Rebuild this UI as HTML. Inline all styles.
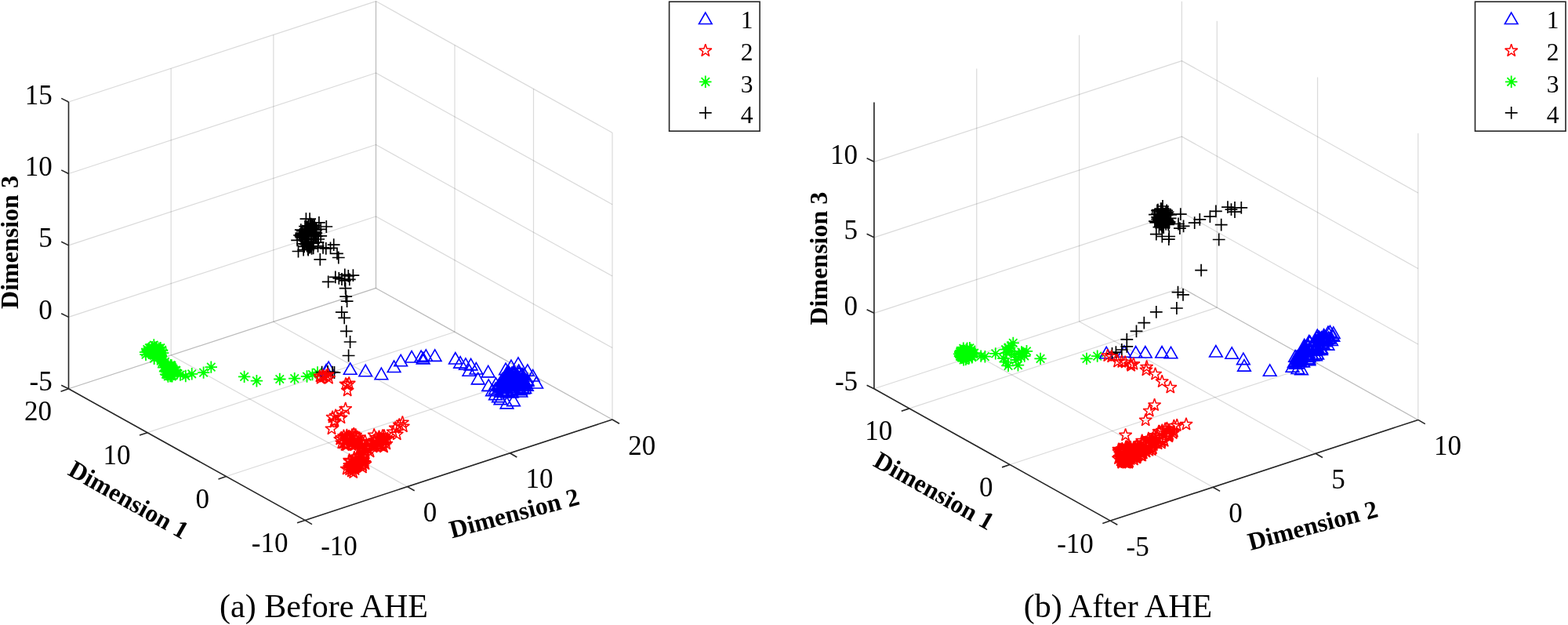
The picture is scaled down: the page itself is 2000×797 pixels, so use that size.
<!DOCTYPE html><html><head><meta charset="utf-8"><title>Before and after AHE 3D scatter plots</title><style>html,body{margin:0;padding:0;background:#fff;overflow:hidden}svg{display:block}text{font-family:'Liberation Serif','Times New Roman',serif;fill:#000}</style></head><body>
<svg width="2000" height="797" viewBox="0 0 2000 797">
<rect width="2000" height="797" fill="#fff"/>
<g stroke="#262626" stroke-opacity="0.17" stroke-width="1.2" fill="none">
<line x1="87.50" y1="495.80" x2="87.50" y2="130.00"/>
<line x1="218.17" y1="453.00" x2="218.17" y2="87.20"/>
<line x1="348.83" y1="410.20" x2="348.83" y2="44.40"/>
<line x1="479.50" y1="367.40" x2="479.50" y2="1.60"/>
<line x1="87.50" y1="495.80" x2="479.50" y2="367.40"/>
<line x1="87.50" y1="404.35" x2="479.50" y2="275.95"/>
<line x1="87.50" y1="312.90" x2="479.50" y2="184.50"/>
<line x1="87.50" y1="221.45" x2="479.50" y2="93.05"/>
<line x1="87.50" y1="130.00" x2="479.50" y2="1.60"/>
<line x1="781.00" y1="535.00" x2="781.00" y2="169.20"/>
<line x1="680.50" y1="479.13" x2="680.50" y2="113.33"/>
<line x1="580.00" y1="423.27" x2="580.00" y2="57.47"/>
<line x1="479.50" y1="367.40" x2="479.50" y2="1.60"/>
<line x1="781.00" y1="535.00" x2="479.50" y2="367.40"/>
<line x1="781.00" y1="443.55" x2="479.50" y2="275.95"/>
<line x1="781.00" y1="352.10" x2="479.50" y2="184.50"/>
<line x1="781.00" y1="260.65" x2="479.50" y2="93.05"/>
<line x1="781.00" y1="169.20" x2="479.50" y2="1.60"/>
<line x1="389.00" y1="663.40" x2="781.00" y2="535.00"/>
<line x1="288.50" y1="607.53" x2="680.50" y2="479.13"/>
<line x1="188.00" y1="551.67" x2="580.00" y2="423.27"/>
<line x1="87.50" y1="495.80" x2="479.50" y2="367.40"/>
<line x1="389.00" y1="663.40" x2="87.50" y2="495.80"/>
<line x1="519.67" y1="620.60" x2="218.17" y2="453.00"/>
<line x1="650.33" y1="577.80" x2="348.83" y2="410.20"/>
<line x1="781.00" y1="535.00" x2="479.50" y2="367.40"/>
</g>
<g stroke="#262626" stroke-opacity="0.17" stroke-width="1.2" fill="none">
<line x1="1114.90" y1="495.80" x2="1114.90" y2="130.50"/>
<line x1="1245.73" y1="452.90" x2="1245.73" y2="87.60"/>
<line x1="1376.57" y1="410.00" x2="1376.57" y2="44.70"/>
<line x1="1507.40" y1="367.10" x2="1507.40" y2="1.80"/>
<line x1="1114.90" y1="495.80" x2="1507.40" y2="367.10"/>
<line x1="1114.90" y1="399.31" x2="1507.40" y2="270.61"/>
<line x1="1114.90" y1="302.83" x2="1507.40" y2="174.13"/>
<line x1="1114.90" y1="206.34" x2="1507.40" y2="77.64"/>
<line x1="1808.80" y1="535.40" x2="1808.80" y2="170.10"/>
<line x1="1680.54" y1="463.78" x2="1680.54" y2="98.48"/>
<line x1="1552.29" y1="392.17" x2="1552.29" y2="26.87"/>
<line x1="1808.80" y1="535.40" x2="1507.40" y2="367.10"/>
<line x1="1808.80" y1="438.91" x2="1507.40" y2="270.61"/>
<line x1="1808.80" y1="342.43" x2="1507.40" y2="174.13"/>
<line x1="1808.80" y1="245.94" x2="1507.40" y2="77.64"/>
<line x1="1416.30" y1="664.10" x2="1808.80" y2="535.40"/>
<line x1="1288.04" y1="592.48" x2="1680.54" y2="463.78"/>
<line x1="1159.79" y1="520.87" x2="1552.29" y2="392.17"/>
<line x1="1416.30" y1="664.10" x2="1114.90" y2="495.80"/>
<line x1="1547.13" y1="621.20" x2="1245.73" y2="452.90"/>
<line x1="1677.97" y1="578.30" x2="1376.57" y2="410.00"/>
<line x1="1808.80" y1="535.40" x2="1507.40" y2="367.10"/>
</g>
<path d="M229.1 479.5H244.5M236.8 471.8V487.2M231.6 474.3L242.0 484.7M231.6 484.7L242.0 474.3M237.0 476.8H252.4M244.7 469.1V484.5M239.5 471.6L249.9 482.0M239.5 482.0L249.9 471.6M251.9 475.1H267.3M259.6 467.4V482.8M254.4 469.9L264.8 480.3M254.4 480.3L264.8 469.9M261.6 468.1H277.0M269.3 460.4V475.8M264.1 462.9L274.5 473.3M264.1 473.3L274.5 462.9M303.9 480.4H319.3M311.6 472.7V488.1M306.4 475.2L316.8 485.6M306.4 485.6L316.8 475.2M319.7 485.7H335.1M327.4 478.0V493.4M322.2 480.5L332.6 490.9M322.2 490.9L332.6 480.5M349.1 483.5H364.5M356.8 475.8V491.2M351.6 478.3L362.0 488.7M351.6 488.7L362.0 478.3M368.0 482.6H383.4M375.7 474.9V490.3M370.5 477.4L380.9 487.8M370.5 487.8L380.9 477.4M383.8 480.0H399.2M391.5 472.3V487.7M386.3 474.8L396.7 485.2M386.3 485.2L396.7 474.8M390.8 477.5H406.2M398.5 469.8V485.2M393.3 472.3L403.7 482.7M393.3 482.7L403.7 472.3M397.3 475.0H412.7M405.0 467.3V482.7M399.8 469.8L410.2 480.2M399.8 480.2L410.2 469.8M222.3 478.0H237.7M230.0 470.3V485.7M224.8 472.8L235.2 483.2M224.8 483.2L235.2 472.8M218.3 476.0H233.7M226.0 468.3V483.7M220.8 470.8L231.2 481.2M220.8 481.2L231.2 470.8M194.9 444.1H210.3M202.6 436.4V451.8M197.4 438.9L207.8 449.3M197.4 449.3L207.8 438.9M188.7 447.6H204.1M196.4 439.9V455.3M191.2 442.4L201.6 452.8M191.2 452.8L201.6 442.4M192.3 453.7H207.7M200.0 446.0V461.4M194.8 448.5L205.2 458.9M194.8 458.9L205.2 448.5M196.5 447.3H211.9M204.2 439.6V455.0M199.0 442.1L209.4 452.5M199.0 452.5L209.4 442.1M187.5 452.5H202.9M195.2 444.8V460.2M190.0 447.3L200.4 457.7M190.0 457.7L200.4 447.3M177.9 449.2H193.3M185.6 441.5V456.9M180.4 444.0L190.8 454.4M180.4 454.4L190.8 444.0M198.9 446.4H214.3M206.6 438.7V454.1M201.4 441.2L211.8 451.6M201.4 451.6L211.8 441.2M182.3 447.1H197.7M190.0 439.4V454.8M184.8 441.9L195.2 452.3M184.8 452.3L195.2 441.9M187.4 448.4H202.8M195.1 440.7V456.1M189.9 443.2L200.3 453.6M189.9 453.6L200.3 443.2M182.7 443.7H198.1M190.4 436.0V451.4M185.2 438.5L195.6 448.9M185.2 448.9L195.6 438.5M182.3 447.8H197.7M190.0 440.1V455.5M184.8 442.6L195.2 453.0M184.8 453.0L195.2 442.6M196.6 449.5H212.0M204.3 441.8V457.2M199.1 444.3L209.5 454.7M199.1 454.7L209.5 444.3M192.1 442.8H207.5M199.8 435.1V450.5M194.6 437.6L205.0 448.0M194.6 448.0L205.0 437.6M180.1 445.5H195.5M187.8 437.8V453.2M182.6 440.3L193.0 450.7M182.6 450.7L193.0 440.3M193.9 452.3H209.3M201.6 444.6V460.0M196.4 447.1L206.8 457.5M196.4 457.5L206.8 447.1M198.8 447.1H214.2M206.5 439.4V454.8M201.3 441.9L211.7 452.3M201.3 452.3L211.7 441.9M196.4 451.6H211.8M204.1 443.9V459.3M198.9 446.4L209.3 456.8M198.9 456.8L209.3 446.4M184.3 450.1H199.7M192.0 442.4V457.8M186.8 444.9L197.2 455.3M186.8 455.3L197.2 444.9M188.9 450.1H204.3M196.6 442.4V457.8M191.4 444.9L201.8 455.3M191.4 455.3L201.8 444.9M195.6 447.0H211.0M203.3 439.3V454.7M198.1 441.8L208.5 452.2M198.1 452.2L208.5 441.8M181.3 449.4H196.7M189.0 441.7V457.1M183.8 444.2L194.2 454.6M183.8 454.6L194.2 444.2M193.5 451.6H208.9M201.2 443.9V459.3M196.0 446.4L206.4 456.8M196.0 456.8L206.4 446.4M185.9 447.4H201.3M193.6 439.7V455.1M188.4 442.2L198.8 452.6M188.4 452.6L198.8 442.2M189.0 453.5H204.4M196.7 445.8V461.2M191.5 448.3L201.9 458.7M191.5 458.7L201.9 448.3M189.3 446.6H204.7M197.0 438.9V454.3M191.8 441.4L202.2 451.8M191.8 451.8L202.2 441.4M188.6 440.0H204.0M196.3 432.3V447.7M191.1 434.8L201.5 445.2M191.1 445.2L201.5 434.8M178.3 452.2H193.7M186.0 444.5V459.9M180.8 447.0L191.2 457.4M180.8 457.4L191.2 447.0M199.9 450.2H215.3M207.6 442.5V457.9M202.4 445.0L212.8 455.4M202.4 455.4L212.8 445.0M186.4 442.6H201.8M194.1 434.9V450.3M188.9 437.4L199.3 447.8M188.9 447.8L199.3 437.4M188.9 457.2H204.3M196.6 449.5V464.9M191.4 452.0L201.8 462.4M191.4 462.4L201.8 452.0M195.0 449.2H210.4M202.7 441.5V456.9M197.5 444.0L207.9 454.4M197.5 454.4L207.9 444.0M197.1 443.7H212.5M204.8 436.0V451.4M199.6 438.5L210.0 448.9M199.6 448.9L210.0 438.5M189.1 456.6H204.5M196.8 448.9V464.3M191.6 451.4L202.0 461.8M191.6 461.8L202.0 451.4M190.6 447.8H206.0M198.3 440.1V455.5M193.1 442.6L203.5 453.0M193.1 453.0L203.5 442.6M183.5 449.4H198.9M191.2 441.7V457.1M186.0 444.2L196.4 454.6M186.0 454.6L196.4 444.2M195.3 454.3H210.7M203.0 446.6V462.0M197.8 449.1L208.2 459.5M197.8 459.5L208.2 449.1M197.7 452.8H213.1M205.4 445.1V460.5M200.2 447.6L210.6 458.0M200.2 458.0L210.6 447.6M195.9 448.8H211.3M203.6 441.1V456.5M198.4 443.6L208.8 454.0M198.4 454.0L208.8 443.6M190.2 447.2H205.6M197.9 439.5V454.9M192.7 442.0L203.1 452.4M192.7 452.4L203.1 442.0M190.4 443.1H205.8M198.1 435.4V450.8M192.9 437.9L203.3 448.3M192.9 448.3L203.3 437.9M188.9 448.2H204.3M196.6 440.5V455.9M191.4 443.0L201.8 453.4M191.4 453.4L201.8 443.0M185.5 445.7H200.9M193.2 438.0V453.4M188.0 440.5L198.4 450.9M188.0 450.9L198.4 440.5M201.7 462.9H217.1M209.4 455.2V470.6M204.2 457.7L214.6 468.1M204.2 468.1L214.6 457.7M200.0 459.5H215.4M207.7 451.8V467.2M202.5 454.3L212.9 464.7M202.5 464.7L212.9 454.3M199.4 461.9H214.8M207.1 454.2V469.6M201.9 456.7L212.3 467.1M201.9 467.1L212.3 456.7M199.1 458.3H214.5M206.8 450.6V466.0M201.6 453.1L212.0 463.5M201.6 463.5L212.0 453.1M197.6 460.1H213.0M205.3 452.4V467.8M200.1 454.9L210.5 465.3M200.1 465.3L210.5 454.9M202.8 461.4H218.2M210.5 453.7V469.1M205.3 456.2L215.7 466.6M205.3 466.6L215.7 456.2M197.7 459.1H213.1M205.4 451.4V466.8M200.2 453.9L210.6 464.3M200.2 464.3L210.6 453.9M197.9 459.5H213.3M205.6 451.8V467.2M200.4 454.3L210.8 464.7M200.4 464.7L210.8 454.3M202.8 473.7H218.2M210.5 466.0V481.4M205.3 468.5L215.7 478.9M205.3 478.9L215.7 468.5M205.3 474.7H220.7M213.0 467.0V482.4M207.8 469.5L218.2 479.9M207.8 479.9L218.2 469.5M210.2 466.0H225.6M217.9 458.3V473.7M212.7 460.8L223.1 471.2M212.7 471.2L223.1 460.8M203.2 468.7H218.6M210.9 461.0V476.4M205.7 463.5L216.1 473.9M205.7 473.9L216.1 463.5M217.2 472.5H232.6M224.9 464.8V480.2M219.7 467.3L230.1 477.7M219.7 477.7L230.1 467.3M214.2 472.6H229.6M221.9 464.9V480.3M216.7 467.4L227.1 477.8M216.7 477.8L227.1 467.4M210.4 467.4H225.8M218.1 459.7V475.1M212.9 462.2L223.3 472.6M212.9 472.6L223.3 462.2M210.4 478.9H225.8M218.1 471.2V486.6M212.9 473.7L223.3 484.1M212.9 484.1L223.3 473.7M208.2 476.9H223.6M215.9 469.2V484.6M210.7 471.7L221.1 482.1M210.7 482.1L221.1 471.7M211.1 466.0H226.5M218.8 458.3V473.7M213.6 460.8L224.0 471.2M213.6 471.2L224.0 460.8M212.7 474.5H228.1M220.4 466.8V482.2M215.2 469.3L225.6 479.7M215.2 479.7L225.6 469.3M214.7 472.6H230.1M222.4 464.9V480.3M217.2 467.4L227.6 477.8M217.2 477.8L227.6 467.4M212.0 479.1H227.4M219.7 471.4V486.8M214.5 473.9L224.9 484.3M214.5 484.3L224.9 473.9M211.9 479.7H227.3M219.6 472.0V487.4M214.4 474.5L224.8 484.9M214.4 484.9L224.8 474.5M205.8 477.8H221.2M213.5 470.1V485.5M208.3 472.6L218.7 483.0M208.3 483.0L218.7 472.6M206.7 480.0H222.1M214.4 472.3V487.7M209.2 474.8L219.6 485.2M209.2 485.2L219.6 474.8M200.9 468.5H216.3M208.6 460.8V476.2M203.4 463.3L213.8 473.7M203.4 473.7L213.8 463.3M216.6 472.0H232.0M224.3 464.3V479.7M219.1 466.8L229.5 477.2M219.1 477.2L229.5 466.8M210.2 469.8H225.6M217.9 462.1V477.5M212.7 464.6L223.1 475.0M212.7 475.0L223.1 464.6M207.9 471.2H223.3M215.6 463.5V478.9M210.4 466.0L220.8 476.4M210.4 476.4L220.8 466.0M205.0 474.4H220.4M212.7 466.7V482.1M207.5 469.2L217.9 479.6M207.5 479.6L217.9 469.2M209.4 479.5H224.8M217.1 471.8V487.2M211.9 474.3L222.3 484.7M211.9 484.7L222.3 474.3M211.3 479.9H226.7M219.0 472.2V487.6M213.8 474.7L224.2 485.1M213.8 485.1L224.2 474.7M211.1 467.6H226.5M218.8 459.9V475.3M213.6 462.4L224.0 472.8M213.6 472.8L224.0 462.4M215.5 474.1H230.9M223.2 466.4V481.8M218.0 468.9L228.4 479.3M218.0 479.3L228.4 468.9M211.9 468.4H227.3M219.6 460.7V476.1M214.4 463.2L224.8 473.6M214.4 473.6L224.8 463.2M214.1 474.2H229.5M221.8 466.5V481.9M216.6 469.0L227.0 479.4M216.6 479.4L227.0 469.0M203.7 466.0H219.1M211.4 458.3V473.7M206.2 460.8L216.6 471.2M206.2 471.2L216.6 460.8M206.1 467.4H221.5M213.8 459.7V475.1M208.6 462.2L219.0 472.6M208.6 472.6L219.0 462.2M203.9 477.3H219.3M211.6 469.6V485.0M206.4 472.1L216.8 482.5M206.4 482.5L216.8 472.1M210.0 465.7H225.4M217.7 458.0V473.4M212.5 460.5L222.9 470.9M212.5 470.9L222.9 460.5M212.0 470.3H227.4M219.7 462.6V478.0M214.5 465.1L224.9 475.5M214.5 475.5L224.9 465.1" fill="none" stroke="#00ff00" stroke-width="1.8" stroke-miterlimit="4"/>
<path d="M419.1 461.2L410.8 475.8L427.4 475.8ZM416.0 464.6L407.7 479.1L424.3 479.1ZM446.7 462.8L438.4 477.3L455.0 477.3ZM466.2 465.2L457.9 479.8L474.5 479.8ZM486.4 469.2L478.1 483.8L494.7 483.8ZM502.6 460.0L494.3 474.5L510.9 474.5ZM511.2 452.3L502.9 466.8L519.5 466.8ZM525.1 447.5L516.8 462.0L533.4 462.0ZM537.1 447.2L528.8 461.8L545.4 461.8ZM543.3 445.9L535.0 460.4L551.6 460.4ZM539.7 449.4L531.4 463.9L548.0 463.9ZM554.7 445.9L546.4 460.4L563.0 460.4ZM580.9 449.5L572.6 464.0L589.2 464.0ZM587.1 454.6L578.8 469.1L595.4 469.1ZM593.9 456.8L585.6 471.3L602.2 471.3ZM600.6 457.4L592.3 471.9L608.9 471.9ZM607.4 462.5L599.1 477.0L615.7 477.0ZM598.4 464.8L590.1 479.2L606.7 479.2ZM609.7 475.4L601.4 489.9L618.0 489.9ZM622.7 466.4L614.4 480.9L631.0 480.9ZM623.2 483.9L614.9 498.4L631.5 498.4ZM661.0 455.8L652.7 470.2L669.3 470.2ZM646.5 506.4L638.2 520.9L654.8 520.9ZM638.5 501.1L630.2 515.6L646.8 515.6ZM655.0 503.1L646.7 517.6L663.3 517.6ZM632.0 495.1L623.7 509.6L640.3 509.6ZM628.0 490.1L619.7 504.6L636.3 504.6ZM684.2 480.5L675.9 495.0L692.5 495.0ZM679.7 471.5L671.4 486.0L688.0 486.0ZM672.9 464.8L664.6 479.2L681.2 479.2ZM632.0 488.1L623.7 502.6L640.3 502.6ZM636.0 498.1L627.7 512.6L644.3 512.6ZM645.0 463.1L636.7 477.6L653.3 477.6ZM652.0 459.1L643.7 473.6L660.3 473.6ZM647.0 466.7L638.7 481.2L655.3 481.2ZM652.5 468.3L644.2 482.8L660.8 482.8ZM641.3 475.7L633.0 490.2L649.6 490.2ZM665.0 470.3L656.7 484.8L673.3 484.8ZM657.2 472.0L648.9 486.5L665.5 486.5ZM667.2 487.8L658.9 502.3L675.5 502.3ZM666.2 469.5L657.9 484.0L674.5 484.0ZM649.5 482.5L641.2 497.0L657.8 497.0ZM663.9 489.3L655.6 503.8L672.2 503.8ZM659.6 483.8L651.3 498.3L667.9 498.3ZM656.2 469.0L647.9 483.5L664.5 483.5ZM655.1 466.3L646.8 480.8L663.4 480.8ZM657.6 472.7L649.3 487.2L665.9 487.2ZM669.9 480.8L661.6 495.3L678.2 495.3ZM656.3 476.1L648.0 490.6L664.6 490.6ZM659.4 476.6L651.1 491.1L667.7 491.1ZM644.5 472.8L636.2 487.3L652.8 487.3ZM640.6 482.4L632.3 496.9L648.9 496.9ZM648.5 479.7L640.2 494.2L656.8 494.2ZM655.0 473.9L646.7 488.4L663.3 488.4ZM653.0 469.7L644.7 484.2L661.3 484.2ZM660.5 471.9L652.2 486.4L668.8 486.4ZM651.1 486.1L642.8 500.6L659.4 500.6ZM649.9 480.4L641.6 494.9L658.2 494.9ZM665.0 482.1L656.7 496.6L673.3 496.6ZM647.1 473.6L638.8 488.1L655.4 488.1ZM645.0 477.4L636.7 491.9L653.3 491.9ZM640.5 484.6L632.2 499.1L648.8 499.1ZM653.0 491.9L644.7 506.4L661.3 506.4ZM660.1 488.2L651.8 502.7L668.4 502.7ZM649.0 469.4L640.7 483.9L657.3 483.9ZM654.1 467.7L645.8 482.2L662.4 482.2ZM652.0 492.5L643.7 507.0L660.3 507.0ZM665.6 474.5L657.3 489.0L673.9 489.0ZM648.9 466.6L640.6 481.1L657.2 481.1ZM672.4 476.4L664.1 490.9L680.7 490.9ZM662.0 468.1L653.7 482.6L670.3 482.6ZM640.4 478.4L632.1 492.9L648.7 492.9ZM643.2 479.5L634.9 494.0L651.5 494.0ZM665.3 475.9L657.0 490.4L673.6 490.4ZM672.6 478.0L664.3 492.5L680.9 492.5ZM647.2 476.0L638.9 490.5L655.5 490.5ZM640.3 476.3L632.0 490.8L648.6 490.8ZM647.5 490.3L639.2 504.8L655.8 504.8ZM667.3 478.6L659.0 493.1L675.6 493.1ZM647.2 469.9L638.9 484.4L655.5 484.4ZM646.9 489.7L638.6 504.2L655.2 504.2ZM670.6 480.6L662.3 495.1L678.9 495.1ZM669.6 483.3L661.3 497.8L677.9 497.8ZM665.9 486.0L657.6 500.5L674.2 500.5ZM655.8 466.4L647.5 480.9L664.1 480.9ZM646.2 489.9L637.9 504.4L654.5 504.4ZM650.4 483.4L642.1 497.9L658.7 497.9ZM666.2 482.9L657.9 497.4L674.5 497.4ZM666.7 479.5L658.4 494.0L675.0 494.0ZM661.3 484.2L653.0 498.7L669.6 498.7ZM648.1 491.3L639.8 505.8L656.4 505.8ZM661.7 465.0L653.4 479.5L670.0 479.5ZM671.9 483.7L663.6 498.2L680.2 498.2ZM660.6 480.7L652.3 495.2L668.9 495.2ZM664.4 491.5L656.1 506.0L672.7 506.0ZM666.5 487.1L658.2 501.6L674.8 501.6ZM668.8 480.2L660.5 494.7L677.1 494.7ZM668.9 469.7L660.6 484.2L677.2 484.2ZM661.8 473.6L653.5 488.1L670.1 488.1ZM669.3 486.9L661.0 501.4L677.6 501.4ZM655.0 479.4L646.7 493.9L663.3 493.9ZM659.2 478.3L650.9 492.8L667.5 492.8ZM668.4 481.9L660.1 496.4L676.7 496.4ZM643.7 474.5L635.4 489.0L652.0 489.0ZM636.1 483.3L627.8 497.8L644.4 497.8ZM639.2 491.6L630.9 506.1L647.5 506.1ZM638.8 486.1L630.5 500.6L647.1 500.6ZM641.7 489.5L633.4 504.0L650.0 504.0ZM642.5 491.1L634.2 505.6L650.8 505.6ZM643.4 487.1L635.1 501.6L651.7 501.6ZM632.5 481.8L624.2 496.3L640.8 496.3ZM641.6 482.2L633.3 496.7L649.9 496.7ZM640.5 490.3L632.2 504.8L648.8 504.8ZM643.5 483.0L635.2 497.5L651.8 497.5Z" fill="none" stroke="#0000ff" stroke-width="1.6" stroke-miterlimit="4"/>
<path d="M382.5 279.1H398.3M390.4 271.2V287.0M387.2 279.1H403.0M395.1 271.2V287.0M408.4 289.0H424.2M416.3 281.1V296.9M372.6 320.5H388.4M380.5 312.6V328.4M379.2 318.6H395.0M387.1 310.7V326.5M385.3 318.6H401.1M393.2 310.7V326.5M400.4 330.9H416.2M408.3 323.0V338.8M417.8 312.1H433.6M425.7 304.2V320.0M423.9 328.5H439.7M431.8 320.6V336.4M422.1 323.4H437.9M430.0 315.5V331.3M407.9 316.8H423.7M415.8 308.9V324.7M413.6 316.3H429.4M421.5 308.4V324.2M404.1 315.8H419.9M412.0 307.9V323.7M397.6 313.9H413.4M405.5 306.0V321.8M397.6 309.2H413.4M405.5 301.3V317.1M401.3 300.8H417.1M409.2 292.9V308.7M401.3 292.3H417.1M409.2 284.4V300.2M399.0 283.8H414.8M406.9 275.9V291.7M375.9 293.2H391.7M383.8 285.3V301.1M371.2 306.4H387.0M379.1 298.5V314.3M374.1 300.0H389.9M382.0 292.1V307.9M410.8 359.4H426.6M418.7 351.5V367.3M419.9 353.4H435.7M427.8 345.5V361.3M424.4 354.9H440.2M432.3 347.0V362.8M431.9 350.4H447.7M439.8 342.5V358.3M436.4 351.9H452.2M444.3 344.0V359.8M442.5 351.1H458.3M450.4 343.2V359.0M437.9 356.4H453.7M445.8 348.5V364.3M431.9 357.9H447.7M439.8 350.0V365.8M428.1 356.0H443.9M436.0 348.1V363.9M432.7 367.7H448.5M440.6 359.8V375.6M433.3 378.2H449.1M441.2 370.3V386.1M434.7 384.2H450.5M442.6 376.3V392.1M427.9 398.2H443.7M435.8 390.3V406.1M431.3 405.3H447.1M439.2 397.4V413.2M433.9 422.3H449.7M441.8 414.4V430.2M438.7 436.0H454.5M446.6 428.1V443.9M436.7 453.5H452.5M444.6 445.6V461.4M402.7 474.6H418.5M410.6 466.7V482.5M410.1 474.0H425.9M418.0 466.1V481.9M416.2 474.6H432.0M424.1 466.7V482.5M418.6 475.0H434.4M426.5 467.1V482.9M386.2 297.3H402.0M394.1 289.4V305.2M375.7 301.6H391.5M383.6 293.7V309.5M388.3 305.3H404.1M396.2 297.4V313.2M376.5 297.5H392.3M384.4 289.6V305.4M391.8 299.9H407.6M399.7 292.0V307.8M392.3 290.2H408.1M400.2 282.3V298.1M381.1 288.7H396.9M389.0 280.8V296.6M387.2 315.5H403.0M395.1 307.6V323.4M389.2 310.5H405.0M397.1 302.6V318.4M384.4 309.6H400.2M392.3 301.7V317.5M377.9 294.6H393.7M385.8 286.7V302.5M391.1 308.9H406.9M399.0 301.0V316.8M385.3 287.9H401.1M393.2 280.0V295.8M381.7 291.9H397.5M389.6 284.0V299.8M382.1 311.7H397.9M390.0 303.8V319.6M380.2 314.3H396.0M388.1 306.4V322.2M384.3 301.2H400.1M392.2 293.3V309.1M376.1 299.0H391.9M384.0 291.1V306.9M389.3 289.0H405.1M397.2 281.1V296.9M388.9 314.5H404.7M396.8 306.6V322.4M377.5 302.8H393.3M385.4 294.9V310.7M387.0 315.4H402.8M394.9 307.5V323.3M385.3 298.1H401.1M393.2 290.2V306.0M390.3 288.1H406.1M398.2 280.2V296.0M388.9 290.7H404.7M396.8 282.8V298.6M389.6 316.6H405.4M397.5 308.7V324.5M376.8 303.3H392.6M384.7 295.4V311.2M389.5 289.9H405.3M397.4 282.0V297.8M391.8 316.4H407.6M399.7 308.5V324.3M381.0 305.2H396.8M388.9 297.3V313.1M376.6 297.1H392.4M384.5 289.2V305.0M391.1 304.5H406.9M399.0 296.6V312.4M393.4 287.9H409.2M401.3 280.0V295.8M383.6 313.5H399.4M391.5 305.6V321.4M389.0 299.9H404.8M396.9 292.0V307.8M384.8 317.5H400.6M392.7 309.6V325.4M388.8 285.6H404.6M396.7 277.7V293.5M394.0 295.8H409.8M401.9 287.9V303.7M385.6 292.0H401.4M393.5 284.1V299.9M385.8 295.7H401.6M393.7 287.8V303.6M377.6 305.8H393.4M385.5 297.9V313.7M378.0 310.9H393.8M385.9 303.0V318.8M394.2 301.4H410.0M402.1 293.5V309.3M391.9 293.2H407.7M399.8 285.3V301.1M392.6 299.0H408.4M400.5 291.1V306.9M384.8 297.3H400.6M392.7 289.4V305.2M395.4 297.2H411.2M403.3 289.3V305.1M391.0 290.6H406.8M398.9 282.7V298.5M395.0 293.5H410.8M402.9 285.6V301.4M398.3 305.0H414.1M406.2 297.1V312.9M380.4 297.8H396.2M388.3 289.9V305.7M389.7 316.9H405.5M397.6 309.0V324.8M383.8 289.6H399.6M391.7 281.7V297.5M388.5 289.5H404.3M396.4 281.6V297.4M377.6 303.3H393.4M385.5 295.4V311.2M391.6 287.2H407.4M399.5 279.3V295.1M386.0 308.2H401.8M393.9 300.3V316.1M393.2 297.6H409.0M401.1 289.7V305.5M392.1 310.5H407.9M400.0 302.6V318.4M395.8 301.3H411.6M403.7 293.4V309.2M387.8 290.7H403.6M395.7 282.8V298.6M390.1 287.8H405.9M398.0 279.9V295.7" fill="none" stroke="#000000" stroke-width="1.7" stroke-miterlimit="4"/>
<path d="M413.1 472.0L415.0 477.8L421.1 477.8L416.2 481.4L418.0 487.2L413.1 483.6L408.2 487.2L410.0 481.4L405.1 477.8L411.2 477.8ZM411.6 471.0L413.5 476.8L419.6 476.8L414.7 480.4L416.5 486.2L411.6 482.6L406.7 486.2L408.5 480.4L403.6 476.8L409.7 476.8ZM416.1 471.0L418.0 476.8L424.1 476.8L419.2 480.4L421.0 486.2L416.1 482.6L411.2 486.2L413.0 480.4L408.1 476.8L414.2 476.8ZM419.5 473.9L421.4 479.7L427.5 479.7L422.6 483.3L424.4 489.1L419.5 485.5L414.6 489.1L416.4 483.3L411.5 479.7L417.6 479.7ZM409.1 473.9L411.0 479.7L417.1 479.7L412.2 483.3L414.0 489.1L409.1 485.5L404.2 489.1L406.0 483.3L401.1 479.7L407.2 479.7ZM418.0 469.4L419.9 475.2L426.0 475.2L421.1 478.8L422.9 484.6L418.0 481.0L413.1 484.6L414.9 478.8L410.0 475.2L416.1 475.2ZM408.0 471.4L409.9 477.2L416.0 477.2L411.1 480.8L412.9 486.6L408.0 483.0L403.1 486.6L404.9 480.8L400.0 477.2L406.1 477.2ZM443.2 482.6L445.1 488.4L451.2 488.4L446.3 492.0L448.1 497.8L443.2 494.2L438.3 497.8L440.1 492.0L435.2 488.4L441.3 488.4ZM443.2 489.6L445.1 495.4L451.2 495.4L446.3 499.0L448.1 504.8L443.2 501.2L438.3 504.8L440.1 499.0L435.2 495.4L441.3 495.4ZM445.2 480.5L447.1 486.3L453.2 486.3L448.3 489.9L450.1 495.7L445.2 492.1L440.3 495.7L442.1 489.9L437.2 486.3L443.3 486.3ZM441.0 481.4L442.9 487.2L449.0 487.2L444.1 490.8L445.9 496.6L441.0 493.0L436.1 496.6L437.9 490.8L433.0 487.2L439.1 487.2ZM440.7 512.9L442.6 518.7L448.7 518.7L443.8 522.3L445.6 528.1L440.7 524.5L435.8 528.1L437.6 522.3L432.7 518.7L438.8 518.7ZM435.2 517.7L437.1 523.5L443.2 523.5L438.3 527.1L440.1 532.9L435.2 529.3L430.3 532.9L432.1 527.1L427.2 523.5L433.3 523.5ZM428.1 521.7L430.0 527.5L436.1 527.5L431.2 531.1L433.0 536.9L428.1 533.3L423.2 536.9L425.0 531.1L420.1 527.5L426.2 527.5ZM424.1 523.7L426.0 529.5L432.1 529.5L427.2 533.1L429.0 538.9L424.1 535.3L419.2 538.9L421.0 533.1L416.1 529.5L422.2 529.5ZM427.0 528.4L428.9 534.2L435.0 534.2L430.1 537.8L431.9 543.6L427.0 540.0L422.1 543.6L423.9 537.8L419.0 534.2L425.1 534.2ZM423.0 538.4L424.9 544.2L431.0 544.2L426.1 547.8L427.9 553.6L423.0 550.0L418.1 553.6L419.9 547.8L415.0 544.2L421.1 544.2ZM435.0 524.4L436.9 530.2L443.0 530.2L438.1 533.8L439.9 539.6L435.0 536.0L430.1 539.6L431.9 533.8L427.0 530.2L433.1 530.2ZM426.2 529.7L428.1 535.5L434.2 535.5L429.3 539.1L431.1 544.9L426.2 541.3L421.3 544.9L423.1 539.1L418.2 535.5L424.3 535.5ZM477.2 546.5L479.1 552.3L485.2 552.3L480.3 555.9L482.1 561.7L477.2 558.1L472.3 561.7L474.1 555.9L469.2 552.3L475.3 552.3ZM509.3 533.4L511.2 539.2L517.3 539.2L512.4 542.8L514.2 548.6L509.3 545.0L504.4 548.6L506.2 542.8L501.3 539.2L507.4 539.2ZM513.4 530.4L515.3 536.2L521.4 536.2L516.5 539.8L518.3 545.6L513.4 542.0L508.5 545.6L510.3 539.8L505.4 536.2L511.5 536.2ZM514.4 535.4L516.3 541.2L522.4 541.2L517.5 544.8L519.3 550.6L514.4 547.0L509.5 550.6L511.3 544.8L506.4 541.2L512.5 541.2ZM504.3 537.4L506.2 543.2L512.3 543.2L507.4 546.8L509.2 552.6L504.3 549.0L499.4 552.6L501.2 546.8L496.3 543.2L502.4 543.2ZM501.3 542.4L503.2 548.2L509.3 548.2L504.4 551.8L506.2 557.6L501.3 554.0L496.4 557.6L498.2 551.8L493.3 548.2L499.4 548.2ZM506.3 545.4L508.2 551.2L514.3 551.2L509.4 554.8L511.2 560.6L506.3 557.0L501.4 560.6L503.2 554.8L498.3 551.2L504.4 551.2ZM449.2 556.3L451.1 562.1L457.2 562.1L452.2 565.7L454.1 571.5L449.2 567.9L444.3 571.5L446.1 565.7L441.2 562.1L447.3 562.1ZM452.2 559.2L454.1 565.0L460.2 565.0L455.3 568.5L457.2 574.4L452.2 570.8L447.3 574.4L449.2 568.5L444.2 565.0L450.4 565.0ZM433.8 551.8L435.6 557.7L441.7 557.7L436.8 561.2L438.7 567.0L433.8 563.5L428.8 567.0L430.7 561.2L425.8 557.7L431.9 557.7ZM457.5 554.8L459.4 560.6L465.5 560.6L460.6 564.2L462.5 570.0L457.5 566.4L452.6 570.0L454.5 564.2L449.5 560.6L455.6 560.6ZM445.2 548.3L447.1 554.1L453.2 554.1L448.2 557.7L450.1 563.5L445.2 560.0L440.3 563.5L442.1 557.7L437.2 554.1L443.3 554.1ZM447.1 553.6L449.0 559.4L455.1 559.4L450.2 563.0L452.1 568.8L447.1 565.2L442.2 568.8L444.1 563.0L439.1 559.4L445.3 559.4ZM440.3 559.1L442.2 564.9L448.3 564.9L443.3 568.5L445.2 574.3L440.3 570.7L435.3 574.3L437.2 568.5L432.3 564.9L438.4 564.9ZM452.9 547.0L454.8 552.8L460.9 552.8L456.0 556.3L457.8 562.1L452.9 558.6L448.0 562.1L449.9 556.3L444.9 552.8L451.0 552.8ZM453.7 546.6L455.6 552.4L461.7 552.4L456.8 556.0L458.7 561.8L453.7 558.2L448.8 561.8L450.7 556.0L445.7 552.4L451.8 552.4ZM449.1 546.4L450.9 552.2L457.0 552.2L452.1 555.8L454.0 561.6L449.1 558.0L444.1 561.6L446.0 555.8L441.1 552.2L447.2 552.2ZM438.4 547.8L440.3 553.7L446.4 553.7L441.5 557.2L443.4 563.0L438.4 559.5L433.5 563.0L435.4 557.2L430.5 553.7L436.6 553.7ZM447.0 555.2L448.9 561.0L455.0 561.0L450.1 564.6L452.0 570.4L447.0 566.9L442.1 570.4L444.0 564.6L439.0 561.0L445.1 561.0ZM456.2 549.2L458.1 555.0L464.2 555.0L459.3 558.6L461.2 564.4L456.2 560.8L451.3 564.4L453.2 558.6L448.2 555.0L454.4 555.0ZM442.4 547.1L444.3 552.9L450.4 552.9L445.4 556.4L447.3 562.3L442.4 558.7L437.5 562.3L439.3 556.4L434.4 552.9L440.5 552.9ZM440.8 554.0L442.7 559.9L448.8 559.9L443.9 563.4L445.8 569.2L440.8 565.7L435.9 569.2L437.8 563.4L432.8 559.9L438.9 559.9ZM441.8 549.4L443.7 555.2L449.8 555.2L444.8 558.8L446.7 564.6L441.8 561.0L436.8 564.6L438.7 558.8L433.8 555.2L439.9 555.2ZM454.3 552.1L456.2 557.9L462.3 557.9L457.3 561.5L459.2 567.3L454.3 563.7L449.3 567.3L451.2 561.5L446.3 557.9L452.4 557.9ZM441.2 552.1L443.1 557.9L449.2 557.9L444.3 561.5L446.1 567.3L441.2 563.7L436.3 567.3L438.2 561.5L433.2 557.9L439.3 557.9ZM451.3 545.3L453.2 551.1L459.3 551.1L454.4 554.7L456.3 560.5L451.3 556.9L446.4 560.5L448.3 554.7L443.3 551.1L449.4 551.1ZM452.5 557.9L454.4 563.7L460.5 563.7L455.5 567.3L457.4 573.1L452.5 569.5L447.6 573.1L449.4 567.3L444.5 563.7L450.6 563.7ZM442.5 553.7L444.4 559.5L450.5 559.5L445.6 563.0L447.5 568.9L442.5 565.3L437.6 568.9L439.5 563.0L434.5 559.5L440.6 559.5ZM438.1 556.5L440.0 562.3L446.1 562.3L441.2 565.9L443.0 571.7L438.1 568.1L433.2 571.7L435.1 565.9L430.1 562.3L436.2 562.3ZM442.0 550.1L443.8 555.9L449.9 555.9L445.0 559.5L446.9 565.3L442.0 561.7L437.0 565.3L438.9 559.5L434.0 555.9L440.1 555.9ZM446.6 556.8L448.5 562.6L454.6 562.6L449.7 566.2L451.6 572.0L446.6 568.4L441.7 572.0L443.6 566.2L438.7 562.6L444.8 562.6ZM435.8 556.4L437.7 562.2L443.8 562.2L438.9 565.8L440.7 571.6L435.8 568.0L430.9 571.6L432.8 565.8L427.8 562.2L433.9 562.2ZM453.7 558.2L455.6 564.0L461.7 564.0L456.8 567.5L458.7 573.4L453.7 569.8L448.8 573.4L450.7 567.5L445.7 564.0L451.8 564.0ZM435.4 549.9L437.3 555.7L443.4 555.7L438.4 559.2L440.3 565.0L435.4 561.5L430.4 565.0L432.3 559.2L427.4 555.7L433.5 555.7ZM448.9 559.1L450.8 564.9L456.9 564.9L451.9 568.5L453.8 574.3L448.9 570.7L443.9 574.3L445.8 568.5L440.9 564.9L447.0 564.9ZM441.8 559.2L443.7 565.0L449.8 565.0L444.9 568.6L446.8 574.4L441.8 570.8L436.9 574.4L438.8 568.6L433.9 565.0L440.0 565.0ZM447.2 549.4L449.1 555.2L455.2 555.2L450.2 558.8L452.1 564.6L447.2 561.0L442.2 564.6L444.1 558.8L439.2 555.2L445.3 555.2ZM462.5 587.8L464.3 593.6L470.4 593.6L465.5 597.2L467.4 603.0L462.5 599.4L457.5 603.0L459.4 597.2L454.5 593.6L460.6 593.6ZM455.7 576.6L457.6 582.4L463.7 582.4L458.7 586.0L460.6 591.8L455.7 588.2L450.7 591.8L452.6 586.0L447.7 582.4L453.8 582.4ZM455.3 586.6L457.2 592.4L463.3 592.4L458.4 596.0L460.3 601.8L455.3 598.2L450.4 601.8L452.3 596.0L447.4 592.4L453.5 592.4ZM453.2 586.8L455.1 592.6L461.2 592.6L456.3 596.2L458.1 602.0L453.2 598.4L448.3 602.0L450.2 596.2L445.2 592.6L451.3 592.6ZM451.0 587.4L452.9 593.2L459.0 593.2L454.1 596.8L455.9 602.6L451.0 599.0L446.1 602.6L447.9 596.8L443.0 593.2L449.1 593.2ZM461.1 579.7L462.9 585.5L469.0 585.5L464.1 589.1L466.0 594.9L461.1 591.3L456.1 594.9L458.0 589.1L453.1 585.5L459.2 585.5ZM456.8 585.0L458.7 590.8L464.8 590.8L459.9 594.4L461.8 600.2L456.8 596.6L451.9 600.2L453.8 594.4L448.9 590.8L455.0 590.8ZM449.2 582.5L451.1 588.3L457.2 588.3L452.3 591.9L454.2 597.7L449.2 594.1L444.3 597.7L446.2 591.9L441.3 588.3L447.4 588.3ZM462.7 576.7L464.6 582.5L470.7 582.5L465.8 586.1L467.7 591.9L462.7 588.3L457.8 591.9L459.7 586.1L454.7 582.5L460.8 582.5ZM462.7 585.1L464.6 590.9L470.7 590.9L465.7 594.5L467.6 600.3L462.7 596.7L457.7 600.3L459.6 594.5L454.7 590.9L460.8 590.9ZM463.6 578.1L465.5 583.9L471.6 583.9L466.6 587.5L468.5 593.3L463.6 589.7L458.6 593.3L460.5 587.5L455.6 583.9L461.7 583.9ZM462.7 580.3L464.6 586.1L470.7 586.1L465.8 589.7L467.6 595.5L462.7 591.9L457.8 595.5L459.7 589.7L454.7 586.1L460.8 586.1ZM459.0 577.2L460.9 583.0L467.0 583.0L462.0 586.6L463.9 592.4L459.0 588.8L454.0 592.4L455.9 586.6L451.0 583.0L457.1 583.0ZM465.9 583.2L467.8 589.0L473.9 589.0L469.0 592.6L470.9 598.4L465.9 594.8L461.0 598.4L462.9 592.6L457.9 589.0L464.0 589.0ZM449.4 584.5L451.3 590.3L457.4 590.3L452.5 593.9L454.4 599.7L449.4 596.1L444.5 599.7L446.4 593.9L441.4 590.3L447.5 590.3ZM452.9 590.1L454.8 595.9L460.9 595.9L456.0 599.4L457.9 605.3L452.9 601.7L448.0 605.3L449.9 599.4L444.9 595.9L451.0 595.9ZM465.0 581.7L466.9 587.5L473.0 587.5L468.1 591.1L469.9 596.9L465.0 593.3L460.1 596.9L462.0 591.1L457.0 587.5L463.1 587.5ZM459.2 585.4L461.1 591.2L467.2 591.2L462.2 594.7L464.1 600.6L459.2 597.0L454.2 600.6L456.1 594.7L451.2 591.2L457.3 591.2ZM445.6 578.6L447.5 584.4L453.6 584.4L448.7 588.0L450.6 593.8L445.6 590.2L440.7 593.8L442.6 588.0L437.6 584.4L443.7 584.4ZM458.2 577.5L460.1 583.3L466.2 583.3L461.3 586.9L463.2 592.7L458.2 589.1L453.3 592.7L455.2 586.9L450.2 583.3L456.4 583.3ZM458.0 573.2L459.8 579.0L466.0 579.0L461.0 582.6L462.9 588.4L458.0 584.8L453.0 588.4L454.9 582.6L450.0 579.0L456.1 579.0ZM464.4 581.9L466.2 587.7L472.4 587.7L467.4 591.3L469.3 597.1L464.4 593.5L459.4 597.1L461.3 591.3L456.4 587.7L462.5 587.7ZM447.6 584.7L449.5 590.5L455.6 590.5L450.6 594.0L452.5 599.9L447.6 596.3L442.6 599.9L444.5 594.0L439.6 590.5L445.7 590.5ZM451.9 575.3L453.8 581.1L459.9 581.1L454.9 584.7L456.8 590.5L451.9 586.9L446.9 590.5L448.8 584.7L443.9 581.1L450.0 581.1ZM455.6 574.2L457.5 580.0L463.6 580.0L458.7 583.6L460.6 589.4L455.6 585.8L450.7 589.4L452.6 583.6L447.7 580.0L453.8 580.0ZM449.6 588.7L451.5 594.5L457.6 594.5L452.7 598.1L454.6 603.9L449.6 600.3L444.7 603.9L446.6 598.1L441.6 594.5L447.7 594.5ZM452.3 589.5L454.2 595.3L460.3 595.3L455.4 598.9L457.3 604.7L452.3 601.1L447.4 604.7L449.3 598.9L444.3 595.3L450.4 595.3ZM458.6 577.5L460.5 583.3L466.6 583.3L461.7 586.9L463.6 592.7L458.6 589.1L453.7 592.7L455.6 586.9L450.7 583.3L456.8 583.3ZM453.3 579.2L455.2 585.0L461.3 585.0L456.4 588.6L458.2 594.4L453.3 590.8L448.4 594.4L450.3 588.6L445.3 585.0L451.4 585.0ZM446.2 579.9L448.1 585.7L454.2 585.7L449.2 589.2L451.1 595.1L446.2 591.5L441.2 595.1L443.1 589.2L438.2 585.7L444.3 585.7ZM483.5 548.8L485.4 554.6L491.5 554.6L486.5 558.2L488.4 564.0L483.5 560.4L478.5 564.0L480.4 558.2L475.5 554.6L481.6 554.6ZM490.0 547.6L491.9 553.4L498.0 553.4L493.1 557.0L495.0 562.8L490.0 559.2L485.1 562.8L487.0 557.0L482.0 553.4L488.1 553.4ZM487.7 552.3L489.6 558.1L495.7 558.1L490.8 561.6L492.7 567.4L487.7 563.9L482.8 567.4L484.7 561.6L479.7 558.1L485.8 558.1ZM478.2 554.5L480.0 560.3L486.1 560.3L481.2 563.9L483.1 569.7L478.2 566.1L473.2 569.7L475.1 563.9L470.2 560.3L476.3 560.3ZM477.7 553.3L479.6 559.1L485.7 559.1L480.8 562.7L482.7 568.5L477.7 564.9L472.8 568.5L474.7 562.7L469.8 559.1L475.9 559.1ZM485.5 559.6L487.4 565.4L493.5 565.4L488.5 569.0L490.4 574.8L485.5 571.2L480.6 574.8L482.4 569.0L477.5 565.4L483.6 565.4ZM479.5 550.0L481.4 555.8L487.5 555.8L482.5 559.4L484.4 565.2L479.5 561.6L474.5 565.2L476.4 559.4L471.5 555.8L477.6 555.8ZM489.5 561.6L491.4 567.4L497.5 567.4L492.6 571.0L494.5 576.8L489.5 573.2L484.6 576.8L486.5 571.0L481.6 567.4L487.7 567.4ZM488.5 552.7L490.4 558.6L496.5 558.6L491.6 562.1L493.5 567.9L488.5 564.4L483.6 567.9L485.5 562.1L480.6 558.6L486.7 558.6ZM494.2 551.0L496.1 556.8L502.2 556.8L497.2 560.4L499.1 566.2L494.2 562.6L489.2 566.2L491.1 560.4L486.2 556.8L492.3 556.8ZM483.2 559.5L485.1 565.3L491.2 565.3L486.2 568.8L488.1 574.7L483.2 571.1L478.2 574.7L480.1 568.8L475.2 565.3L481.3 565.3ZM480.6 555.7L482.5 561.5L488.6 561.5L483.7 565.1L485.6 570.9L480.6 567.3L475.7 570.9L477.6 565.1L472.6 561.5L478.7 561.5ZM489.8 552.4L491.7 558.2L497.8 558.2L492.8 561.7L494.7 567.6L489.8 564.0L484.8 567.6L486.7 561.7L481.8 558.2L487.9 558.2ZM488.0 547.4L489.8 553.2L495.9 553.2L491.0 556.8L492.9 562.6L488.0 559.0L483.0 562.6L484.9 556.8L480.0 553.2L486.1 553.2ZM490.6 553.2L492.5 559.0L498.6 559.0L493.7 562.6L495.5 568.4L490.6 564.9L485.7 568.4L487.6 562.6L482.6 559.0L488.7 559.0ZM483.3 555.8L485.2 561.6L491.3 561.6L486.3 565.2L488.2 571.0L483.3 567.4L478.3 571.0L480.2 565.2L475.3 561.6L481.4 561.6ZM486.1 551.2L487.9 557.0L494.1 557.0L489.1 560.6L491.0 566.4L486.1 562.8L481.1 566.4L483.0 560.6L478.1 557.0L484.2 557.0ZM492.9 557.6L494.8 563.4L500.9 563.4L495.9 567.0L497.8 572.8L492.9 569.2L488.0 572.8L489.8 567.0L484.9 563.4L491.0 563.4ZM481.9 555.6L483.8 561.4L489.9 561.4L484.9 565.0L486.8 570.8L481.9 567.2L476.9 570.8L478.8 565.0L473.9 561.4L480.0 561.4ZM487.5 560.4L489.4 566.2L495.5 566.2L490.6 569.8L492.4 575.6L487.5 572.0L482.6 575.6L484.5 569.8L479.5 566.2L485.6 566.2ZM491.6 551.0L493.5 556.8L499.6 556.8L494.6 560.4L496.5 566.2L491.6 562.6L486.7 566.2L488.5 560.4L483.6 556.8L489.7 556.8ZM485.4 558.5L487.2 564.3L493.4 564.3L488.4 567.9L490.3 573.7L485.4 570.1L480.4 573.7L482.3 567.9L477.4 564.3L483.5 564.3ZM460.5 563.7L462.4 569.5L468.5 569.5L463.6 573.1L465.5 578.9L460.5 575.3L455.6 578.9L457.5 573.1L452.5 569.5L458.6 569.5ZM459.7 556.4L461.6 562.2L467.7 562.2L462.8 565.8L464.6 571.6L459.7 568.0L454.8 571.6L456.7 565.8L451.7 562.2L457.8 562.2ZM470.8 559.7L472.7 565.6L478.8 565.6L473.9 569.1L475.8 574.9L470.8 571.4L465.9 574.9L467.8 569.1L462.8 565.6L469.0 565.6ZM467.1 560.3L468.9 566.1L475.1 566.1L470.1 569.7L472.0 575.5L467.1 571.9L462.1 575.5L464.0 569.7L459.1 566.1L465.2 566.1ZM461.8 565.7L463.7 571.5L469.8 571.5L464.9 575.1L466.8 580.9L461.8 577.3L456.9 580.9L458.8 575.1L453.9 571.5L460.0 571.5ZM459.8 556.1L461.7 562.0L467.8 562.0L462.8 565.5L464.7 571.3L459.8 567.8L454.9 571.3L456.7 565.5L451.8 562.0L457.9 562.0ZM466.2 566.8L468.0 572.6L474.1 572.6L469.2 576.2L471.1 582.0L466.2 578.4L461.2 582.0L463.1 576.2L458.2 572.6L464.3 572.6ZM465.6 554.2L467.5 560.0L473.6 560.0L468.6 563.6L470.5 569.4L465.6 565.8L460.6 569.4L462.5 563.6L457.6 560.0L463.7 560.0ZM459.3 562.3L461.1 568.1L467.3 568.1L462.3 571.7L464.2 577.5L459.3 573.9L454.3 577.5L456.2 571.7L451.3 568.1L457.4 568.1ZM465.5 563.0L467.4 568.8L473.5 568.8L468.6 572.4L470.5 578.2L465.5 574.6L460.6 578.2L462.5 572.4L457.6 568.8L463.7 568.8ZM464.8 563.5L466.7 569.3L472.8 569.3L467.8 572.9L469.7 578.7L464.8 575.1L459.8 578.7L461.7 572.9L456.8 569.3L462.9 569.3ZM468.0 562.8L469.8 568.6L475.9 568.6L471.0 572.2L472.9 578.0L468.0 574.4L463.0 578.0L464.9 572.2L460.0 568.6L466.1 568.6ZM476.0 561.7L477.9 567.5L484.0 567.5L479.1 571.1L481.0 576.9L476.0 573.3L471.1 576.9L473.0 571.1L468.0 567.5L474.1 567.5ZM476.9 560.2L478.8 566.0L484.9 566.0L480.0 569.6L481.9 575.4L476.9 571.8L472.0 575.4L473.9 569.6L468.9 566.0L475.0 566.0ZM469.6 564.1L471.5 569.9L477.6 569.9L472.6 573.5L474.5 579.3L469.6 575.7L464.6 579.3L466.5 573.5L461.6 569.9L467.7 569.9ZM475.6 557.0L477.5 562.8L483.6 562.8L478.7 566.4L480.6 572.2L475.6 568.6L470.7 572.2L472.6 566.4L467.6 562.8L473.7 562.8ZM465.1 566.4L467.0 572.3L473.1 572.3L468.2 575.8L470.1 581.6L465.1 578.1L460.2 581.6L462.1 575.8L457.1 572.3L463.2 572.3ZM460.7 564.6L462.6 570.4L468.7 570.4L463.8 574.0L465.6 579.8L460.7 576.2L455.8 579.8L457.6 574.0L452.7 570.4L458.8 570.4ZM460.0 563.4L461.8 569.2L467.9 569.2L463.0 572.8L464.9 578.6L460.0 575.1L455.0 578.6L456.9 572.8L452.0 569.2L458.1 569.2ZM472.0 567.6L473.9 573.4L480.0 573.4L475.1 577.0L477.0 582.8L472.0 579.2L467.1 582.8L469.0 577.0L464.1 573.4L470.2 573.4ZM474.9 560.5L476.8 566.3L482.9 566.3L477.9 569.8L479.8 575.7L474.9 572.1L469.9 575.7L471.8 569.8L466.9 566.3L473.0 566.3ZM462.0 554.8L463.8 560.6L469.9 560.6L465.0 564.2L466.9 570.0L462.0 566.4L457.0 570.0L458.9 564.2L454.0 560.6L460.1 560.6ZM449.1 588.8L451.0 594.6L457.1 594.6L452.1 598.2L454.0 604.0L449.1 600.4L444.2 604.0L446.0 598.2L441.1 594.6L447.2 594.6ZM449.9 588.0L451.8 593.8L457.9 593.8L453.0 597.4L454.9 603.2L449.9 599.6L445.0 603.2L446.9 597.4L441.9 593.8L448.0 593.8ZM454.4 585.3L456.2 591.1L462.3 591.1L457.4 594.7L459.3 600.5L454.4 596.9L449.4 600.5L451.3 594.7L446.4 591.1L452.5 591.1ZM448.2 592.6L450.1 598.4L456.2 598.4L451.3 601.9L453.1 607.8L448.2 604.2L443.3 607.8L445.2 601.9L440.2 598.4L446.3 598.4ZM450.7 594.3L452.6 600.1L458.7 600.1L453.7 603.7L455.6 609.5L450.7 605.9L445.8 609.5L447.6 603.7L442.7 600.1L448.8 600.1ZM445.6 587.7L447.5 593.5L453.6 593.5L448.7 597.1L450.6 602.9L445.6 599.3L440.7 602.9L442.6 597.1L437.6 593.5L443.7 593.5ZM445.9 585.0L447.8 590.8L453.9 590.8L448.9 594.4L450.8 600.2L445.9 596.6L440.9 600.2L442.8 594.4L437.9 590.8L444.0 590.8ZM442.2 589.6L444.1 595.4L450.2 595.4L445.3 599.0L447.1 604.8L442.2 601.2L437.3 604.8L439.2 599.0L434.2 595.4L440.3 595.4ZM445.8 590.4L447.7 596.2L453.8 596.2L448.8 599.7L450.7 605.6L445.8 602.0L440.8 605.6L442.7 599.7L437.8 596.2L443.9 596.2ZM453.5 587.4L455.3 593.2L461.4 593.2L456.5 596.8L458.4 602.6L453.5 599.0L448.5 602.6L450.4 596.8L445.5 593.2L451.6 593.2Z" fill="none" stroke="#ff0000" stroke-width="1.5" stroke-miterlimit="1"/>
<path d="M1243.5 454.1H1258.9M1251.2 446.4V461.8M1246.0 448.9L1256.4 459.3M1246.0 459.3L1256.4 448.9M1248.7 454.7H1264.1M1256.4 447.0V462.4M1251.2 449.5L1261.6 459.9M1251.2 459.9L1261.6 449.5M1262.1 450.9H1277.5M1269.8 443.2V458.6M1264.6 445.7L1275.0 456.1M1264.6 456.1L1275.0 445.7M1274.9 445.7H1290.3M1282.6 438.0V453.4M1277.4 440.5L1287.8 450.9M1277.4 450.9L1287.8 440.5M1281.8 440.9H1297.2M1289.5 433.2V448.6M1284.3 435.7L1294.7 446.1M1284.3 446.1L1294.7 435.7M1284.6 437.4H1300.0M1292.3 429.7V445.1M1287.1 432.2L1297.5 442.6M1287.1 442.6L1297.5 432.2M1278.3 443.0H1293.7M1286.0 435.3V450.7M1280.8 437.8L1291.2 448.2M1280.8 448.2L1291.2 437.8M1276.3 449.8H1291.7M1284.0 442.1V457.5M1278.8 444.6L1289.2 455.0M1278.8 455.0L1289.2 444.6M1274.9 461.6H1290.3M1282.6 453.9V469.3M1277.4 456.4L1287.8 466.8M1277.4 466.8L1287.8 456.4M1278.4 466.4H1293.8M1286.1 458.7V474.1M1280.9 461.2L1291.3 471.6M1280.9 471.6L1291.3 461.2M1290.8 465.7H1306.2M1298.5 458.0V473.4M1293.3 460.5L1303.7 470.9M1293.3 470.9L1303.7 460.5M1297.0 450.5H1312.4M1304.7 442.8V458.2M1299.5 445.3L1309.9 455.7M1299.5 455.7L1309.9 445.3M1301.8 447.8H1317.2M1309.5 440.1V455.5M1304.3 442.6L1314.7 453.0M1304.3 453.0L1314.7 442.6M1299.1 454.0H1314.5M1306.8 446.3V461.7M1301.6 448.8L1312.0 459.2M1301.6 459.2L1312.0 448.8M1294.3 455.0H1309.7M1302.0 447.3V462.7M1296.8 449.8L1307.2 460.2M1296.8 460.2L1307.2 449.8M1286.3 452.0H1301.7M1294.0 444.3V459.7M1288.8 446.8L1299.2 457.2M1288.8 457.2L1299.2 446.8M1278.3 444.0H1293.7M1286.0 436.3V451.7M1280.8 438.8L1291.2 449.2M1280.8 449.2L1291.2 438.8M1282.3 448.0H1297.7M1290.0 440.3V455.7M1284.8 442.8L1295.2 453.2M1284.8 453.2L1295.2 442.8M1292.3 452.0H1307.7M1300.0 444.3V459.7M1294.8 446.8L1305.2 457.2M1294.8 457.2L1305.2 446.8M1295.3 449.0H1310.7M1303.0 441.3V456.7M1297.8 443.8L1308.2 454.2M1297.8 454.2L1308.2 443.8M1272.3 457.0H1287.7M1280.0 449.3V464.7M1274.8 451.8L1285.2 462.2M1274.8 462.2L1285.2 451.8M1288.3 459.0H1303.7M1296.0 451.3V466.7M1290.8 453.8L1301.2 464.2M1290.8 464.2L1301.2 453.8M1319.4 457.4H1334.8M1327.1 449.7V465.1M1321.9 452.2L1332.3 462.6M1321.9 462.6L1332.3 452.2M1378.3 457.4H1393.7M1386.0 449.7V465.1M1380.8 452.2L1391.2 462.6M1380.8 462.6L1391.2 452.2M1392.0 454.1H1407.4M1399.7 446.4V461.8M1394.5 448.9L1404.9 459.3M1394.5 459.3L1404.9 448.9M1224.3 453.1H1239.7M1232.0 445.4V460.8M1226.8 447.9L1237.2 458.3M1226.8 458.3L1237.2 447.9M1233.8 451.4H1249.2M1241.5 443.7V459.1M1236.3 446.2L1246.7 456.6M1236.3 456.6L1246.7 446.2M1225.5 453.6H1240.9M1233.2 445.9V461.3M1228.0 448.4L1238.4 458.8M1228.0 458.8L1238.4 448.4M1219.0 452.2H1234.4M1226.7 444.5V459.9M1221.5 447.0L1231.9 457.4M1221.5 457.4L1231.9 447.0M1227.9 457.3H1243.3M1235.6 449.6V465.0M1230.4 452.1L1240.8 462.5M1230.4 462.5L1240.8 452.1M1217.2 448.5H1232.6M1224.9 440.8V456.2M1219.7 443.3L1230.1 453.7M1219.7 453.7L1230.1 443.3M1229.2 443.8H1244.6M1236.9 436.1V451.5M1231.7 438.6L1242.1 449.0M1231.7 449.0L1242.1 438.6M1228.4 454.1H1243.8M1236.1 446.4V461.8M1230.9 448.9L1241.3 459.3M1230.9 459.3L1241.3 448.9M1225.9 444.1H1241.3M1233.6 436.4V451.8M1228.4 438.9L1238.8 449.3M1228.4 449.3L1238.8 438.9M1219.1 447.4H1234.5M1226.8 439.7V455.1M1221.6 442.2L1232.0 452.6M1221.6 452.6L1232.0 442.2M1215.9 451.4H1231.3M1223.6 443.7V459.1M1218.4 446.2L1228.8 456.6M1218.4 456.6L1228.8 446.2M1224.1 458.2H1239.5M1231.8 450.5V465.9M1226.6 453.0L1237.0 463.4M1226.6 463.4L1237.0 453.0M1225.7 454.5H1241.1M1233.4 446.8V462.2M1228.2 449.3L1238.6 459.7M1228.2 459.7L1238.6 449.3M1225.3 454.9H1240.7M1233.0 447.2V462.6M1227.8 449.7L1238.2 460.1M1227.8 460.1L1238.2 449.7M1224.4 448.0H1239.8M1232.1 440.3V455.7M1226.9 442.8L1237.3 453.2M1226.9 453.2L1237.3 442.8M1232.1 455.7H1247.5M1239.8 448.0V463.4M1234.6 450.5L1245.0 460.9M1234.6 460.9L1245.0 450.5M1221.6 447.1H1237.0M1229.3 439.4V454.8M1224.1 441.9L1234.5 452.3M1224.1 452.3L1234.5 441.9M1221.1 444.3H1236.5M1228.8 436.6V452.0M1223.6 439.1L1234.0 449.5M1223.6 449.5L1234.0 439.1M1230.6 450.2H1246.0M1238.3 442.5V457.9M1233.1 445.0L1243.5 455.4M1233.1 455.4L1243.5 445.0M1232.2 450.0H1247.6M1239.9 442.3V457.7M1234.7 444.8L1245.1 455.2M1234.7 455.2L1245.1 444.8M1233.5 451.5H1248.9M1241.2 443.8V459.2M1236.0 446.3L1246.4 456.7M1236.0 456.7L1246.4 446.3M1234.9 450.2H1250.3M1242.6 442.5V457.9M1237.4 445.0L1247.8 455.4M1237.4 455.4L1247.8 445.0M1216.8 454.3H1232.2M1224.5 446.6V462.0M1219.3 449.1L1229.7 459.5M1219.3 459.5L1229.7 449.1M1230.9 447.9H1246.3M1238.6 440.2V455.6M1233.4 442.7L1243.8 453.1M1233.4 453.1L1243.8 442.7M1217.0 449.0H1232.4M1224.7 441.3V456.7M1219.5 443.8L1229.9 454.2M1219.5 454.2L1229.9 443.8M1217.7 447.4H1233.1M1225.4 439.7V455.1M1220.2 442.2L1230.6 452.6M1220.2 452.6L1230.6 442.2M1231.2 446.2H1246.6M1238.9 438.5V453.9M1233.7 441.0L1244.1 451.4M1233.7 451.4L1244.1 441.0M1226.5 451.1H1241.9M1234.2 443.4V458.8M1229.0 445.9L1239.4 456.3M1229.0 456.3L1239.4 445.9M1219.1 456.2H1234.5M1226.8 448.5V463.9M1221.6 451.0L1232.0 461.4M1221.6 461.4L1232.0 451.0M1217.9 454.6H1233.3M1225.6 446.9V462.3M1220.4 449.4L1230.8 459.8M1220.4 459.8L1230.8 449.4M1217.6 450.6H1233.0M1225.3 442.9V458.3M1220.1 445.4L1230.5 455.8M1220.1 455.8L1230.5 445.4M1219.6 447.9H1235.0M1227.3 440.2V455.6M1222.1 442.7L1232.5 453.1M1222.1 453.1L1232.5 442.7M1221.4 458.9H1236.8M1229.1 451.2V466.6M1223.9 453.7L1234.3 464.1M1223.9 464.1L1234.3 453.7M1219.5 450.1H1234.9M1227.2 442.4V457.8M1222.0 444.9L1232.4 455.3M1222.0 455.3L1232.4 444.9M1232.4 454.6H1247.8M1240.1 446.9V462.3M1234.9 449.4L1245.3 459.8M1234.9 459.8L1245.3 449.4M1219.6 447.6H1235.0M1227.3 439.9V455.3M1222.1 442.4L1232.5 452.8M1222.1 452.8L1232.5 442.4M1230.8 448.9H1246.2M1238.5 441.2V456.6M1233.3 443.7L1243.7 454.1M1233.3 454.1L1243.7 443.7M1221.2 444.3H1236.6M1228.9 436.6V452.0M1223.7 439.1L1234.1 449.5M1223.7 449.5L1234.1 439.1M1217.1 453.5H1232.5M1224.8 445.8V461.2M1219.6 448.3L1230.0 458.7M1219.6 458.7L1230.0 448.3M1220.2 453.8H1235.6M1227.9 446.1V461.5M1222.7 448.6L1233.1 459.0M1222.7 459.0L1233.1 448.6" fill="none" stroke="#00ff00" stroke-width="1.8" stroke-miterlimit="4"/>
<path d="M1411.2 442.3L1402.9 456.8L1419.5 456.8ZM1434.0 440.8L1425.7 455.2L1442.3 455.2ZM1448.7 441.5L1440.4 456.0L1457.0 456.0ZM1460.9 441.5L1452.6 456.0L1469.2 456.0ZM1482.1 441.5L1473.8 456.0L1490.4 456.0ZM1493.5 442.3L1485.2 456.8L1501.8 456.8ZM1550.9 440.5L1542.6 455.0L1559.2 455.0ZM1571.2 442.8L1562.9 457.3L1579.5 457.3ZM1585.9 450.1L1577.6 464.6L1594.2 464.6ZM1587.0 458.6L1578.7 473.1L1595.3 473.1ZM1619.7 464.8L1611.4 479.3L1628.0 479.3ZM1655.3 462.0L1647.0 476.5L1663.6 476.5ZM1648.5 459.8L1640.2 474.2L1656.8 474.2ZM1660.0 463.1L1651.7 477.6L1668.3 477.6ZM1676.1 438.7L1667.8 453.2L1684.4 453.2ZM1679.8 422.8L1671.5 437.3L1688.1 437.3ZM1667.5 449.2L1659.2 463.7L1675.8 463.7ZM1686.7 429.0L1678.4 443.5L1695.0 443.5ZM1680.5 435.3L1672.2 449.8L1688.8 449.8ZM1656.3 448.6L1648.0 463.1L1664.6 463.1ZM1655.6 455.3L1647.3 469.8L1663.9 469.8ZM1665.8 440.2L1657.5 454.7L1674.1 454.7ZM1670.9 428.3L1662.6 442.8L1679.2 442.8ZM1654.4 449.6L1646.1 464.1L1662.7 464.1ZM1654.2 447.0L1645.9 461.5L1662.5 461.5ZM1677.7 424.9L1669.4 439.4L1686.0 439.4ZM1680.3 420.1L1672.0 434.6L1688.6 434.6ZM1662.2 453.4L1653.9 467.9L1670.5 467.9ZM1669.3 437.9L1661.0 452.4L1677.6 452.4ZM1680.2 430.9L1671.9 445.4L1688.5 445.4ZM1663.7 432.4L1655.4 446.9L1672.0 446.9ZM1666.3 438.8L1658.0 453.3L1674.6 453.3ZM1687.5 430.2L1679.2 444.7L1695.8 444.7ZM1652.1 446.6L1643.8 461.1L1660.4 461.1ZM1668.5 440.9L1660.2 455.4L1676.8 455.4ZM1691.7 422.6L1683.4 437.1L1700.0 437.1ZM1672.1 438.3L1663.8 452.8L1680.4 452.8ZM1660.1 445.2L1651.8 459.7L1668.4 459.7ZM1673.0 444.0L1664.7 458.5L1681.3 458.5ZM1655.4 452.0L1647.1 466.5L1663.7 466.5ZM1661.1 451.3L1652.8 465.8L1669.4 465.8ZM1669.1 443.6L1660.8 458.1L1677.4 458.1ZM1651.6 452.6L1643.3 467.1L1659.9 467.1ZM1657.6 443.5L1649.3 458.0L1665.9 458.0ZM1679.9 443.4L1671.6 457.9L1688.2 457.9ZM1680.1 443.1L1671.8 457.6L1688.4 457.6ZM1664.6 435.7L1656.3 450.2L1672.9 450.2ZM1693.5 431.6L1685.2 446.1L1701.8 446.1ZM1687.7 421.7L1679.4 436.2L1696.0 436.2ZM1653.0 455.6L1644.7 470.1L1661.3 470.1ZM1669.8 427.5L1661.5 442.0L1678.1 442.0ZM1669.8 446.9L1661.5 461.4L1678.1 461.4ZM1694.5 423.9L1686.2 438.4L1702.8 438.4ZM1661.7 446.5L1653.4 461.0L1670.0 461.0ZM1675.9 438.1L1667.6 452.6L1684.2 452.6ZM1669.2 449.5L1660.9 464.0L1677.5 464.0ZM1669.4 451.1L1661.1 465.6L1677.7 465.6ZM1678.7 437.6L1670.4 452.1L1687.0 452.1ZM1682.7 422.3L1674.4 436.8L1691.0 436.8ZM1661.3 440.0L1653.0 454.5L1669.6 454.5ZM1687.4 430.8L1679.1 445.3L1695.7 445.3ZM1668.2 434.3L1659.9 448.8L1676.5 448.8ZM1678.0 445.3L1669.7 459.8L1686.3 459.8ZM1680.2 434.7L1671.9 449.2L1688.5 449.2ZM1688.1 423.3L1679.8 437.8L1696.4 437.8ZM1685.0 437.9L1676.7 452.4L1693.3 452.4ZM1691.6 424.7L1683.3 439.2L1699.9 439.2ZM1665.9 439.2L1657.6 453.7L1674.2 453.7ZM1688.6 426.6L1680.3 441.1L1696.9 441.1ZM1680.9 438.3L1672.6 452.8L1689.2 452.8ZM1664.3 433.7L1656.0 448.2L1672.6 448.2ZM1665.5 438.1L1657.2 452.6L1673.8 452.6ZM1700.4 420.6L1692.1 435.1L1708.7 435.1ZM1679.2 435.4L1670.9 449.9L1687.5 449.9ZM1656.4 450.9L1648.1 465.4L1664.7 465.4ZM1684.7 425.4L1676.4 439.9L1693.0 439.9ZM1661.1 444.0L1652.8 458.5L1669.4 458.5ZM1668.6 445.2L1660.3 459.7L1676.9 459.7ZM1668.1 445.8L1659.8 460.3L1676.4 460.3ZM1691.0 427.2L1682.7 441.7L1699.3 441.7ZM1696.5 415.4L1688.2 429.9L1704.8 429.9ZM1650.8 454.0L1642.5 468.5L1659.1 468.5ZM1668.6 432.4L1660.3 446.9L1676.9 446.9ZM1682.3 425.9L1674.0 440.4L1690.6 440.4ZM1659.7 443.0L1651.4 457.5L1668.0 457.5ZM1665.5 437.3L1657.2 451.8L1673.8 451.8ZM1659.1 446.2L1650.8 460.7L1667.4 460.7ZM1678.0 438.2L1669.7 452.7L1686.3 452.7ZM1657.5 448.3L1649.2 462.8L1665.8 462.8ZM1685.3 436.3L1677.0 450.8L1693.6 450.8ZM1662.0 444.6L1653.7 459.1L1670.3 459.1ZM1698.1 426.0L1689.8 440.5L1706.4 440.5ZM1661.8 446.8L1653.5 461.3L1670.1 461.3ZM1687.8 422.9L1679.5 437.4L1696.1 437.4ZM1686.5 430.7L1678.2 445.2L1694.8 445.2ZM1700.8 416.9L1692.5 431.4L1709.1 431.4ZM1683.1 425.5L1674.8 440.0L1691.4 440.0ZM1685.4 422.9L1677.1 437.4L1693.7 437.4ZM1673.8 433.0L1665.5 447.5L1682.1 447.5ZM1661.0 437.2L1652.7 451.7L1669.3 451.7ZM1661.7 447.0L1653.4 461.5L1670.0 461.5ZM1688.7 419.5L1680.4 434.0L1697.0 434.0ZM1699.5 419.1L1691.2 433.6L1707.8 433.6ZM1674.3 445.5L1666.0 460.0L1682.6 460.0ZM1694.0 416.2L1685.7 430.7L1702.3 430.7ZM1657.7 452.5L1649.4 467.0L1666.0 467.0ZM1694.7 423.0L1686.4 437.5L1703.0 437.5ZM1689.3 422.3L1681.0 436.8L1697.6 436.8ZM1678.7 426.6L1670.4 441.1L1687.0 441.1Z" fill="none" stroke="#0000ff" stroke-width="1.6" stroke-miterlimit="4"/>
<path d="M1497.9 273.2H1513.7M1505.8 265.3V281.1M1501.7 288.3H1517.5M1509.6 280.4V296.2M1497.0 291.1H1512.8M1504.9 283.2V299.0M1495.1 285.5H1510.9M1503.0 277.6V293.4M1515.8 284.1H1531.6M1523.7 276.2V292.0M1522.4 279.8H1538.2M1530.3 271.9V287.7M1535.5 276.1H1551.3M1543.4 268.2V284.0M1543.0 269.4H1558.8M1550.9 261.5V277.3M1549.8 286.7H1565.6M1557.7 278.8V294.6M1546.8 305.5H1562.6M1554.7 297.6V313.4M1524.2 344.7H1540.0M1532.1 336.8V352.6M1558.1 264.1H1573.9M1566.0 256.2V272.0M1567.1 264.8H1582.9M1575.0 256.9V272.7M1575.4 264.8H1591.2M1583.3 256.9V272.7M1562.6 267.1H1578.4M1570.5 259.2V275.0M1567.1 270.1H1582.9M1575.0 262.2V278.0M1466.9 298.6H1482.7M1474.8 290.7V306.5M1474.4 301.5H1490.2M1482.3 293.6V309.4M1483.3 301.5H1499.1M1491.2 293.6V309.4M1482.9 305.2H1498.7M1490.8 297.3V313.1M1475.1 263.0H1490.9M1483.0 255.1V270.9M1494.6 372.6H1510.4M1502.5 364.7V380.5M1501.1 375.9H1516.9M1509.0 368.0V383.8M1493.0 393.0H1508.8M1500.9 385.1V400.9M1466.9 397.9H1482.7M1474.8 390.0V405.8M1451.4 411.7H1467.2M1459.3 403.8V419.6M1441.6 422.3H1457.4M1449.5 414.4V430.2M1429.4 432.9H1445.2M1437.3 425.0V440.8M1429.4 441.9H1445.2M1437.3 434.0V449.8M1422.9 446.0H1438.7M1430.8 438.1V453.9M1415.5 449.2H1431.3M1423.4 441.3V457.1M1410.6 450.9H1426.4M1418.5 443.0V458.8M1480.3 268.4H1496.1M1488.2 260.5V276.3M1483.7 283.1H1499.5M1491.6 275.2V291.0M1468.4 273.5H1484.2M1476.3 265.6V281.4M1479.6 271.9H1495.4M1487.5 264.0V279.8M1468.9 270.4H1484.7M1476.8 262.5V278.3M1481.7 270.3H1497.5M1489.6 262.4V278.2M1484.8 278.3H1500.6M1492.7 270.4V286.2M1468.2 276.8H1484.0M1476.1 268.9V284.7M1472.7 266.2H1488.5M1480.6 258.3V274.1M1476.2 274.1H1492.0M1484.1 266.2V282.0M1476.3 290.0H1492.1M1484.2 282.1V297.9M1478.1 275.3H1493.9M1486.0 267.4V283.2M1474.4 290.5H1490.2M1482.3 282.6V298.4M1479.2 284.1H1495.0M1487.1 276.2V292.0M1469.5 277.9H1485.3M1477.4 270.0V285.8M1473.8 287.5H1489.6M1481.7 279.6V295.4M1475.9 275.2H1491.7M1483.8 267.3V283.1M1474.6 269.0H1490.4M1482.5 261.1V276.9M1485.4 273.9H1501.2M1493.3 266.0V281.8M1468.2 272.7H1484.0M1476.1 264.8V280.6M1482.4 272.9H1498.2M1490.3 265.0V280.8M1484.3 273.4H1500.1M1492.2 265.5V281.3M1473.2 266.1H1489.0M1481.1 258.2V274.0M1474.0 267.2H1489.8M1481.9 259.3V275.1M1474.4 274.5H1490.2M1482.3 266.6V282.4M1480.4 272.0H1496.2M1488.3 264.1V279.9M1474.6 277.5H1490.4M1482.5 269.6V285.4M1476.3 276.9H1492.1M1484.2 269.0V284.8M1481.3 280.6H1497.1M1489.2 272.7V288.5M1479.2 271.2H1495.0M1487.1 263.3V279.1M1470.6 282.2H1486.4M1478.5 274.3V290.1M1471.7 273.7H1487.5M1479.6 265.8V281.6M1477.4 283.7H1493.2M1485.3 275.8V291.6M1476.9 272.7H1492.7M1484.8 264.8V280.6M1482.3 286.4H1498.1M1490.2 278.5V294.3M1471.0 274.9H1486.8M1478.9 267.0V282.8M1475.0 268.0H1490.8M1482.9 260.1V275.9M1470.5 289.6H1486.3M1478.4 281.7V297.5M1479.0 272.8H1494.8M1486.9 264.9V280.7M1470.2 280.9H1486.0M1478.1 273.0V288.8M1479.4 273.5H1495.2M1487.3 265.6V281.4M1483.3 284.4H1499.1M1491.2 276.5V292.3M1476.4 273.4H1492.2M1484.3 265.5V281.3M1465.0 273.6H1480.8M1472.9 265.7V281.5M1480.3 279.3H1496.1M1488.2 271.4V287.2M1474.2 289.4H1490.0M1482.1 281.5V297.3M1472.1 286.1H1487.9M1480.0 278.2V294.0M1466.3 282.4H1482.1M1474.2 274.5V290.3M1482.7 282.4H1498.5M1490.6 274.5V290.3M1476.5 279.4H1492.3M1484.4 271.5V287.3M1480.6 274.3H1496.4M1488.5 266.4V282.2M1468.2 279.6H1484.0M1476.1 271.7V287.5M1475.1 267.3H1490.9M1483.0 259.4V275.2M1475.3 277.1H1491.1M1483.2 269.2V285.0M1466.4 283.8H1482.2M1474.3 275.9V291.7M1481.3 273.5H1497.1M1489.2 265.6V281.4M1478.5 275.4H1494.3M1486.4 267.5V283.3M1469.1 267.6H1484.9M1477.0 259.7V275.5M1479.3 285.9H1495.1M1487.2 278.0V293.8M1465.0 282.1H1480.8M1472.9 274.2V290.0M1467.5 283.0H1483.3M1475.4 275.1V290.9M1481.7 284.2H1497.5M1489.6 276.3V292.1M1475.4 288.8H1491.2M1483.3 280.9V296.7M1468.1 268.4H1483.9M1476.0 260.5V276.3M1472.6 275.8H1488.4M1480.5 267.9V283.7" fill="none" stroke="#000000" stroke-width="1.7" stroke-miterlimit="4"/>
<path d="M1412.8 445.2L1414.7 451.0L1420.8 451.0L1415.9 454.6L1417.7 460.4L1412.8 456.8L1407.9 460.4L1409.7 454.6L1404.8 451.0L1410.9 451.0ZM1417.7 446.5L1419.6 452.3L1425.7 452.3L1420.8 455.9L1422.6 461.7L1417.7 458.1L1412.8 461.7L1414.6 455.9L1409.7 452.3L1415.8 452.3ZM1425.6 452.7L1427.5 458.5L1433.6 458.5L1428.7 462.1L1430.5 467.9L1425.6 464.3L1420.7 467.9L1422.5 462.1L1417.6 458.5L1423.7 458.5ZM1430.8 453.1L1432.7 458.9L1438.8 458.9L1433.9 462.5L1435.7 468.3L1430.8 464.7L1425.9 468.3L1427.7 462.5L1422.8 458.9L1428.9 458.9ZM1435.2 453.7L1437.1 459.5L1443.2 459.5L1438.3 463.1L1440.1 468.9L1435.2 465.3L1430.3 468.9L1432.1 463.1L1427.2 459.5L1433.3 459.5ZM1442.7 458.0L1444.6 463.8L1450.7 463.8L1445.8 467.4L1447.6 473.2L1442.7 469.6L1437.8 473.2L1439.6 467.4L1434.7 463.8L1440.8 463.8ZM1445.9 455.9L1447.8 461.7L1453.9 461.7L1449.0 465.3L1450.8 471.1L1445.9 467.5L1441.0 471.1L1442.8 465.3L1437.9 461.7L1444.0 461.7ZM1442.2 456.3L1444.1 462.1L1450.2 462.1L1445.3 465.7L1447.1 471.5L1442.2 467.9L1437.3 471.5L1439.1 465.7L1434.2 462.1L1440.3 462.1ZM1461.9 463.4L1463.8 469.2L1469.9 469.2L1465.0 472.8L1466.8 478.6L1461.9 475.0L1457.0 478.6L1458.8 472.8L1453.9 469.2L1460.0 469.2ZM1473.6 468.7L1475.5 474.5L1481.6 474.5L1476.7 478.1L1478.5 483.9L1473.6 480.3L1468.7 483.9L1470.5 478.1L1465.6 474.5L1471.7 474.5ZM1482.2 478.3L1484.1 484.1L1490.2 484.1L1485.3 487.7L1487.1 493.5L1482.2 489.9L1477.3 493.5L1479.1 487.7L1474.2 484.1L1480.3 484.1ZM1492.8 485.8L1494.7 491.6L1500.8 491.6L1495.9 495.2L1497.7 501.0L1492.8 497.4L1487.9 501.0L1489.7 495.2L1484.8 491.6L1490.9 491.6ZM1472.6 508.2L1474.5 514.0L1480.6 514.0L1475.7 517.6L1477.5 523.4L1472.6 519.8L1467.7 523.4L1469.5 517.6L1464.6 514.0L1470.7 514.0ZM1466.2 515.6L1468.1 521.4L1474.2 521.4L1469.3 525.0L1471.1 530.8L1466.2 527.2L1461.3 530.8L1463.1 525.0L1458.2 521.4L1464.3 521.4ZM1461.2 527.4L1463.1 533.2L1469.2 533.2L1464.3 536.8L1466.1 542.6L1461.2 539.0L1456.3 542.6L1458.1 536.8L1453.2 533.2L1459.3 533.2ZM1513.0 532.7L1514.9 538.5L1521.0 538.5L1516.1 542.1L1517.9 547.9L1513.0 544.3L1508.1 547.9L1509.9 542.1L1505.0 538.5L1511.1 538.5ZM1435.6 546.5L1437.5 552.3L1443.6 552.3L1438.7 555.9L1440.5 561.7L1435.6 558.1L1430.7 561.7L1432.5 555.9L1427.6 552.3L1433.7 552.3ZM1462.6 459.6L1464.5 465.4L1470.6 465.4L1465.7 469.0L1467.5 474.8L1462.6 471.2L1457.7 474.8L1459.5 469.0L1454.6 465.4L1460.7 465.4ZM1449.0 572.7L1450.9 578.5L1457.0 578.5L1452.0 582.0L1453.9 587.9L1449.0 584.3L1444.0 587.9L1445.9 582.0L1441.0 578.5L1447.1 578.5ZM1481.8 554.5L1483.7 560.3L1489.8 560.3L1484.9 563.9L1486.7 569.7L1481.8 566.1L1476.9 569.7L1478.8 563.9L1473.8 560.3L1479.9 560.3ZM1439.4 569.7L1441.2 575.5L1447.3 575.5L1442.4 579.1L1444.3 584.9L1439.4 581.3L1434.4 584.9L1436.3 579.1L1431.4 575.5L1437.5 575.5ZM1436.5 571.5L1438.4 577.3L1444.5 577.3L1439.5 580.9L1441.4 586.7L1436.5 583.1L1431.5 586.7L1433.4 580.9L1428.5 577.3L1434.6 577.3ZM1478.8 541.9L1480.7 547.7L1486.8 547.7L1481.8 551.2L1483.7 557.1L1478.8 553.5L1473.8 557.1L1475.7 551.2L1470.8 547.7L1476.9 547.7ZM1464.6 552.8L1466.5 558.6L1472.6 558.6L1467.7 562.2L1469.6 568.0L1464.6 564.4L1459.7 568.0L1461.6 562.2L1456.7 558.6L1462.8 558.6ZM1449.2 567.3L1451.1 573.1L1457.2 573.1L1452.3 576.7L1454.2 582.5L1449.2 578.9L1444.3 582.5L1446.2 576.7L1441.3 573.1L1447.4 573.1ZM1490.9 543.7L1492.8 549.5L1498.9 549.5L1493.9 553.0L1495.8 558.9L1490.9 555.3L1485.9 558.9L1487.8 553.0L1482.9 549.5L1489.0 549.5ZM1490.7 547.8L1492.5 553.6L1498.6 553.6L1493.7 557.2L1495.6 563.0L1490.7 559.4L1485.7 563.0L1487.6 557.2L1482.7 553.6L1488.8 553.6ZM1491.3 546.1L1493.2 551.9L1499.3 551.9L1494.4 555.5L1496.2 561.3L1491.3 557.7L1486.4 561.3L1488.3 555.5L1483.3 551.9L1489.4 551.9ZM1450.4 575.1L1452.2 580.9L1458.3 580.9L1453.4 584.5L1455.3 590.3L1450.4 586.7L1445.4 590.3L1447.3 584.5L1442.4 580.9L1448.5 580.9ZM1466.4 562.7L1468.3 568.5L1474.4 568.5L1469.5 572.1L1471.3 577.9L1466.4 574.3L1461.5 577.9L1463.4 572.1L1458.4 568.5L1464.5 568.5ZM1469.1 554.3L1471.0 560.1L1477.1 560.1L1472.1 563.7L1474.0 569.5L1469.1 565.9L1464.1 569.5L1466.0 563.7L1461.1 560.1L1467.2 560.1ZM1454.4 564.0L1456.2 569.8L1462.3 569.8L1457.4 573.3L1459.3 579.1L1454.4 575.6L1449.4 579.1L1451.3 573.3L1446.4 569.8L1452.5 569.8ZM1447.7 561.9L1449.6 567.7L1455.7 567.7L1450.8 571.3L1452.7 577.1L1447.7 573.5L1442.8 577.1L1444.7 571.3L1439.7 567.7L1445.8 567.7ZM1491.3 547.2L1493.2 553.0L1499.3 553.0L1494.4 556.6L1496.2 562.4L1491.3 558.8L1486.4 562.4L1488.3 556.6L1483.3 553.0L1489.4 553.0ZM1471.3 559.3L1473.2 565.1L1479.3 565.1L1474.4 568.7L1476.2 574.5L1471.3 570.9L1466.4 574.5L1468.3 568.7L1463.3 565.1L1469.4 565.1ZM1439.8 578.5L1441.7 584.3L1447.8 584.3L1442.8 587.9L1444.7 593.7L1439.8 590.1L1434.8 593.7L1436.7 587.9L1431.8 584.3L1437.9 584.3ZM1457.8 556.5L1459.7 562.3L1465.8 562.3L1460.9 565.9L1462.8 571.7L1457.8 568.1L1452.9 571.7L1454.8 565.9L1449.8 562.3L1455.9 562.3ZM1443.3 573.1L1445.2 578.9L1451.3 578.9L1446.4 582.5L1448.3 588.3L1443.3 584.7L1438.4 588.3L1440.3 582.5L1435.3 578.9L1441.4 578.9ZM1446.5 569.7L1448.3 575.5L1454.5 575.5L1449.5 579.1L1451.4 584.9L1446.5 581.3L1441.5 584.9L1443.4 579.1L1438.5 575.5L1444.6 575.5ZM1471.8 551.8L1473.7 557.6L1479.8 557.6L1474.8 561.2L1476.7 567.0L1471.8 563.4L1466.9 567.0L1468.7 561.2L1463.8 557.6L1469.9 557.6ZM1437.7 576.1L1439.6 581.9L1445.7 581.9L1440.8 585.5L1442.7 591.3L1437.7 587.7L1432.8 591.3L1434.7 585.5L1429.7 581.9L1435.9 581.9ZM1443.1 567.4L1445.0 573.2L1451.1 573.2L1446.1 576.8L1448.0 582.6L1443.1 579.0L1438.1 582.6L1440.0 576.8L1435.1 573.2L1441.2 573.2ZM1441.3 571.2L1443.2 577.0L1449.3 577.0L1444.3 580.6L1446.2 586.4L1441.3 582.8L1436.3 586.4L1438.2 580.6L1433.3 577.0L1439.4 577.0ZM1435.0 581.1L1436.9 586.9L1443.0 586.9L1438.1 590.5L1439.9 596.3L1435.0 592.7L1430.1 596.3L1431.9 590.5L1427.0 586.9L1433.1 586.9ZM1497.4 535.0L1499.3 540.8L1505.4 540.8L1500.4 544.3L1502.3 550.1L1497.4 546.6L1492.4 550.1L1494.3 544.3L1489.4 540.8L1495.5 540.8ZM1485.1 554.0L1487.0 559.8L1493.1 559.8L1488.2 563.4L1490.1 569.2L1485.1 565.6L1480.2 569.2L1482.1 563.4L1477.2 559.8L1483.3 559.8ZM1490.7 548.4L1492.6 554.3L1498.7 554.3L1493.7 557.8L1495.6 563.6L1490.7 560.1L1485.7 563.6L1487.6 557.8L1482.7 554.3L1488.8 554.3ZM1472.1 546.9L1474.0 552.7L1480.1 552.7L1475.1 556.2L1477.0 562.1L1472.1 558.5L1467.1 562.1L1469.0 556.2L1464.1 552.7L1470.2 552.7ZM1462.1 567.8L1463.9 573.6L1470.1 573.6L1465.1 577.2L1467.0 583.0L1462.1 579.4L1457.1 583.0L1459.0 577.2L1454.1 573.6L1460.2 573.6ZM1496.3 544.1L1498.1 549.9L1504.2 549.9L1499.3 553.5L1501.2 559.3L1496.3 555.7L1491.3 559.3L1493.2 553.5L1488.3 549.9L1494.4 549.9ZM1446.4 577.7L1448.3 583.6L1454.4 583.6L1449.5 587.1L1451.4 592.9L1446.4 589.4L1441.5 592.9L1443.4 587.1L1438.4 583.6L1444.6 583.6ZM1457.8 567.5L1459.7 573.3L1465.8 573.3L1460.8 576.9L1462.7 582.7L1457.8 579.1L1452.9 582.7L1454.7 576.9L1449.8 573.3L1455.9 573.3ZM1474.7 556.6L1476.6 562.4L1482.7 562.4L1477.7 566.0L1479.6 571.8L1474.7 568.2L1469.8 571.8L1471.6 566.0L1466.7 562.4L1472.8 562.4ZM1444.9 574.0L1446.8 579.8L1452.9 579.8L1447.9 583.4L1449.8 589.2L1444.9 585.6L1439.9 589.2L1441.8 583.4L1436.9 579.8L1443.0 579.8ZM1471.8 555.8L1473.7 561.6L1479.8 561.6L1474.9 565.2L1476.7 571.0L1471.8 567.4L1466.9 571.0L1468.8 565.2L1463.8 561.6L1469.9 561.6ZM1456.8 568.4L1458.7 574.2L1464.8 574.2L1459.8 577.8L1461.7 583.6L1456.8 580.0L1451.8 583.6L1453.7 577.8L1448.8 574.2L1454.9 574.2ZM1451.4 563.1L1453.3 568.9L1459.4 568.9L1454.5 572.5L1456.4 578.3L1451.4 574.8L1446.5 578.3L1448.4 572.5L1443.4 568.9L1449.5 568.9ZM1442.0 577.2L1443.9 583.0L1450.0 583.0L1445.1 586.6L1447.0 592.4L1442.0 588.8L1437.1 592.4L1439.0 586.6L1434.0 583.0L1440.1 583.0ZM1433.9 573.2L1435.8 579.0L1441.9 579.0L1437.0 582.6L1438.8 588.4L1433.9 584.8L1429.0 588.4L1430.9 582.6L1425.9 579.0L1432.0 579.0ZM1434.6 581.2L1436.5 587.0L1442.6 587.0L1437.7 590.6L1439.6 596.4L1434.6 592.8L1429.7 596.4L1431.6 590.6L1426.6 587.0L1432.7 587.0ZM1469.5 556.3L1471.4 562.1L1477.5 562.1L1472.6 565.7L1474.5 571.5L1469.5 567.9L1464.6 571.5L1466.5 565.7L1461.5 562.1L1467.7 562.1ZM1430.5 579.8L1432.4 585.6L1438.5 585.6L1433.5 589.2L1435.4 595.0L1430.5 591.4L1425.6 595.0L1427.4 589.2L1422.5 585.6L1428.6 585.6ZM1449.7 560.2L1451.5 566.0L1457.6 566.0L1452.7 569.6L1454.6 575.4L1449.7 571.8L1444.7 575.4L1446.6 569.6L1441.7 566.0L1447.8 566.0ZM1435.3 573.8L1437.2 579.6L1443.3 579.6L1438.3 583.2L1440.2 589.0L1435.3 585.4L1430.4 589.0L1432.2 583.2L1427.3 579.6L1433.4 579.6ZM1448.9 570.9L1450.8 576.7L1456.9 576.7L1452.0 580.3L1453.8 586.1L1448.9 582.5L1444.0 586.1L1445.8 580.3L1440.9 576.7L1447.0 576.7ZM1433.6 578.4L1435.5 584.2L1441.6 584.2L1436.7 587.7L1438.6 593.5L1433.6 590.0L1428.7 593.5L1430.6 587.7L1425.6 584.2L1431.7 584.2ZM1458.3 569.6L1460.2 575.4L1466.3 575.4L1461.4 579.0L1463.2 584.8L1458.3 581.2L1453.4 584.8L1455.3 579.0L1450.3 575.4L1456.4 575.4ZM1469.1 565.2L1471.0 571.1L1477.1 571.1L1472.2 574.6L1474.1 580.4L1469.1 576.9L1464.2 580.4L1466.1 574.6L1461.1 571.1L1467.2 571.1ZM1466.0 557.2L1467.9 563.0L1474.0 563.0L1469.0 566.6L1470.9 572.4L1466.0 568.8L1461.1 572.4L1462.9 566.6L1458.0 563.0L1464.1 563.0ZM1475.6 547.3L1477.5 553.1L1483.6 553.1L1478.6 556.7L1480.5 562.5L1475.6 558.9L1470.6 562.5L1472.5 556.7L1467.6 553.1L1473.7 553.1ZM1430.5 581.0L1432.4 586.8L1438.5 586.8L1433.6 590.4L1435.5 596.2L1430.5 592.6L1425.6 596.2L1427.5 590.4L1422.6 586.8L1428.7 586.8ZM1497.4 542.0L1499.3 547.8L1505.4 547.8L1500.5 551.4L1502.4 557.2L1497.4 553.6L1492.5 557.2L1494.4 551.4L1489.4 547.8L1495.5 547.8ZM1448.9 572.7L1450.8 578.5L1456.9 578.5L1452.0 582.1L1453.9 587.9L1448.9 584.3L1444.0 587.9L1445.9 582.1L1440.9 578.5L1447.0 578.5ZM1488.4 538.1L1490.3 543.9L1496.4 543.9L1491.5 547.5L1493.4 553.3L1488.4 549.7L1483.5 553.3L1485.4 547.5L1480.5 543.9L1486.6 543.9ZM1470.1 552.1L1472.0 557.9L1478.1 557.9L1473.2 561.5L1475.1 567.3L1470.1 563.7L1465.2 567.3L1467.1 561.5L1462.1 557.9L1468.2 557.9ZM1444.2 567.7L1446.1 573.5L1452.2 573.5L1447.2 577.1L1449.1 582.9L1444.2 579.3L1439.3 582.9L1441.1 577.1L1436.2 573.5L1442.3 573.5ZM1441.8 570.6L1443.7 576.4L1449.8 576.4L1444.9 580.0L1446.7 585.8L1441.8 582.2L1436.9 585.8L1438.8 580.0L1433.8 576.4L1439.9 576.4ZM1430.0 579.2L1431.9 585.0L1438.0 585.0L1433.1 588.6L1435.0 594.4L1430.0 590.8L1425.1 594.4L1427.0 588.6L1422.1 585.0L1428.2 585.0ZM1437.0 582.0L1438.9 587.8L1445.0 587.8L1440.0 591.4L1441.9 597.2L1437.0 593.6L1432.0 597.2L1433.9 591.4L1429.0 587.8L1435.1 587.8ZM1482.3 540.8L1484.2 546.6L1490.3 546.6L1485.3 550.2L1487.2 556.0L1482.3 552.4L1477.3 556.0L1479.2 550.2L1474.3 546.6L1480.4 546.6ZM1464.1 560.1L1466.0 565.9L1472.1 565.9L1467.1 569.5L1469.0 575.3L1464.1 571.7L1459.2 575.3L1461.0 569.5L1456.1 565.9L1462.2 565.9ZM1450.7 563.5L1452.6 569.3L1458.7 569.3L1453.8 572.9L1455.7 578.7L1450.7 575.1L1445.8 578.7L1447.7 572.9L1442.7 569.3L1448.8 569.3ZM1456.8 556.4L1458.7 562.2L1464.8 562.2L1459.9 565.8L1461.8 571.6L1456.8 568.0L1451.9 571.6L1453.8 565.8L1448.8 562.2L1454.9 562.2ZM1486.2 538.8L1488.1 544.6L1494.2 544.6L1489.2 548.2L1491.1 554.0L1486.2 550.4L1481.3 554.0L1483.1 548.2L1478.2 544.6L1484.3 544.6ZM1449.5 566.3L1451.4 572.1L1457.5 572.1L1452.5 575.7L1454.4 581.5L1449.5 577.9L1444.5 581.5L1446.4 575.7L1441.5 572.1L1447.6 572.1ZM1454.2 564.3L1456.1 570.1L1462.2 570.1L1457.3 573.7L1459.2 579.5L1454.2 575.9L1449.3 579.5L1451.2 573.7L1446.2 570.1L1452.3 570.1ZM1431.7 580.9L1433.6 586.7L1439.7 586.7L1434.8 590.3L1436.7 596.1L1431.7 592.5L1426.8 596.1L1428.7 590.3L1423.7 586.7L1429.8 586.7ZM1440.5 580.6L1442.4 586.4L1448.5 586.4L1443.6 590.0L1445.5 595.8L1440.5 592.2L1435.6 595.8L1437.5 590.0L1432.6 586.4L1438.7 586.4ZM1455.6 572.5L1457.5 578.3L1463.6 578.3L1458.7 581.9L1460.5 587.7L1455.6 584.1L1450.7 587.7L1452.6 581.9L1447.6 578.3L1453.7 578.3ZM1464.9 550.9L1466.7 556.7L1472.8 556.7L1467.9 560.3L1469.8 566.1L1464.9 562.5L1459.9 566.1L1461.8 560.3L1456.9 556.7L1463.0 556.7ZM1462.3 557.6L1464.1 563.4L1470.2 563.4L1465.3 567.0L1467.2 572.8L1462.3 569.2L1457.3 572.8L1459.2 567.0L1454.3 563.4L1460.4 563.4ZM1456.4 570.2L1458.3 576.0L1464.4 576.0L1459.5 579.6L1461.3 585.4L1456.4 581.8L1451.5 585.4L1453.3 579.6L1448.4 576.0L1454.5 576.0ZM1446.0 575.3L1447.9 581.1L1454.0 581.1L1449.0 584.7L1450.9 590.5L1446.0 586.9L1441.0 590.5L1442.9 584.7L1438.0 581.1L1444.1 581.1ZM1481.3 556.6L1483.2 562.4L1489.3 562.4L1484.4 565.9L1486.3 571.8L1481.3 568.2L1476.4 571.8L1478.3 565.9L1473.3 562.4L1479.4 562.4ZM1470.4 563.4L1472.3 569.2L1478.4 569.2L1473.4 572.8L1475.3 578.6L1470.4 575.0L1465.4 578.6L1467.3 572.8L1462.4 569.2L1468.5 569.2ZM1461.3 562.3L1463.2 568.1L1469.3 568.1L1464.4 571.7L1466.2 577.5L1461.3 573.9L1456.4 577.5L1458.3 571.7L1453.3 568.1L1459.4 568.1ZM1477.0 557.4L1478.9 563.2L1485.0 563.2L1480.1 566.8L1482.0 572.6L1477.0 569.0L1472.1 572.6L1474.0 566.8L1469.1 563.2L1475.2 563.2ZM1438.6 576.4L1440.5 582.2L1446.6 582.2L1441.7 585.8L1443.5 591.6L1438.6 588.0L1433.7 591.6L1435.6 585.8L1430.6 582.2L1436.7 582.2ZM1488.3 543.8L1490.2 549.6L1496.3 549.6L1491.4 553.2L1493.2 559.0L1488.3 555.4L1483.4 559.0L1485.3 553.2L1480.3 549.6L1486.4 549.6ZM1446.3 562.3L1448.2 568.1L1454.3 568.1L1449.3 571.7L1451.2 577.5L1446.3 573.9L1441.3 577.5L1443.2 571.7L1438.3 568.1L1444.4 568.1ZM1478.0 541.9L1479.9 547.7L1486.0 547.7L1481.1 551.3L1483.0 557.1L1478.0 553.5L1473.1 557.1L1475.0 551.3L1470.1 547.7L1476.2 547.7ZM1484.3 553.2L1486.2 559.0L1492.3 559.0L1487.4 562.6L1489.3 568.4L1484.3 564.8L1479.4 568.4L1481.3 562.6L1476.3 559.0L1482.4 559.0ZM1460.6 563.8L1462.5 569.6L1468.6 569.6L1463.6 573.2L1465.5 579.0L1460.6 575.4L1455.6 579.0L1457.5 573.2L1452.6 569.6L1458.7 569.6ZM1491.5 545.4L1493.4 551.2L1499.5 551.2L1494.6 554.8L1496.5 560.6L1491.5 557.0L1486.6 560.6L1488.5 554.8L1483.5 551.2L1489.7 551.2ZM1452.0 572.2L1453.9 578.0L1460.0 578.0L1455.1 581.6L1457.0 587.4L1452.0 583.8L1447.1 587.4L1449.0 581.6L1444.0 578.0L1450.1 578.0ZM1434.5 574.5L1436.4 580.3L1442.5 580.3L1437.5 583.9L1439.4 589.7L1434.5 586.1L1429.5 589.7L1431.4 583.9L1426.5 580.3L1432.6 580.3ZM1501.3 534.1L1503.1 539.9L1509.2 539.9L1504.3 543.5L1506.2 549.3L1501.3 545.7L1496.3 549.3L1498.2 543.5L1493.3 539.9L1499.4 539.9ZM1450.6 573.7L1452.4 579.5L1458.5 579.5L1453.6 583.0L1455.5 588.8L1450.6 585.3L1445.6 588.8L1447.5 583.0L1442.6 579.5L1448.7 579.5ZM1456.7 553.7L1458.6 559.5L1464.7 559.5L1459.8 563.1L1461.6 568.9L1456.7 565.4L1451.8 568.9L1453.7 563.1L1448.7 559.5L1454.8 559.5ZM1456.7 572.7L1458.6 578.5L1464.7 578.5L1459.8 582.1L1461.6 587.9L1456.7 584.3L1451.8 587.9L1453.7 582.1L1448.7 578.5L1454.8 578.5ZM1449.7 575.6L1451.5 581.4L1457.6 581.4L1452.7 585.0L1454.6 590.8L1449.7 587.2L1444.7 590.8L1446.6 585.0L1441.7 581.4L1447.8 581.4ZM1490.2 540.2L1492.1 546.0L1498.2 546.0L1493.3 549.5L1495.2 555.4L1490.2 551.8L1485.3 555.4L1487.2 549.5L1482.3 546.0L1488.4 546.0ZM1461.6 555.8L1463.5 561.6L1469.6 561.6L1464.7 565.2L1466.5 571.0L1461.6 567.4L1456.7 571.0L1458.6 565.2L1453.6 561.6L1459.7 561.6ZM1465.9 566.0L1467.8 571.8L1473.9 571.8L1468.9 575.4L1470.8 581.2L1465.9 577.6L1460.9 581.2L1462.8 575.4L1457.9 571.8L1464.0 571.8ZM1464.8 552.3L1466.7 558.1L1472.8 558.1L1467.9 561.7L1469.8 567.5L1464.8 563.9L1459.9 567.5L1461.8 561.7L1456.9 558.1L1463.0 558.1ZM1455.6 564.1L1457.5 569.9L1463.6 569.9L1458.7 573.5L1460.6 579.3L1455.6 575.7L1450.7 579.3L1452.6 573.5L1447.6 569.9L1453.7 569.9ZM1442.9 574.4L1444.8 580.2L1450.9 580.2L1446.0 583.7L1447.9 589.5L1442.9 586.0L1438.0 589.5L1439.9 583.7L1434.9 580.2L1441.0 580.2ZM1469.7 551.4L1471.6 557.2L1477.7 557.2L1472.8 560.8L1474.7 566.6L1469.7 563.0L1464.8 566.6L1466.7 560.8L1461.8 557.2L1467.9 557.2ZM1426.6 576.3L1428.4 582.1L1434.6 582.1L1429.6 585.7L1431.5 591.5L1426.6 587.9L1421.6 591.5L1423.5 585.7L1418.6 582.1L1424.7 582.1ZM1439.6 582.0L1441.5 587.8L1447.6 587.8L1442.7 591.4L1444.6 597.2L1439.6 593.6L1434.7 597.2L1436.6 591.4L1431.7 587.8L1437.8 587.8ZM1430.5 565.5L1432.4 571.3L1438.5 571.3L1433.6 574.9L1435.4 580.7L1430.5 577.1L1425.6 580.7L1427.5 574.9L1422.5 571.3L1428.6 571.3ZM1441.6 575.2L1443.5 581.0L1449.6 581.0L1444.7 584.6L1446.6 590.4L1441.6 586.8L1436.7 590.4L1438.6 584.6L1433.6 581.0L1439.7 581.0ZM1431.3 575.8L1433.2 581.6L1439.3 581.6L1434.3 585.2L1436.2 591.0L1431.3 587.4L1426.3 591.0L1428.2 585.2L1423.3 581.6L1429.4 581.6ZM1433.5 578.1L1435.4 583.9L1441.5 583.9L1436.6 587.5L1438.5 593.3L1433.5 589.7L1428.6 593.3L1430.5 587.5L1425.5 583.9L1431.6 583.9ZM1426.8 564.8L1428.7 570.6L1434.8 570.6L1429.9 574.1L1431.8 580.0L1426.8 576.4L1421.9 580.0L1423.8 574.1L1418.9 570.6L1425.0 570.6ZM1445.6 568.0L1447.5 573.8L1453.6 573.8L1448.7 577.4L1450.6 583.2L1445.6 579.6L1440.7 583.2L1442.6 577.4L1437.6 573.8L1443.7 573.8ZM1430.2 578.7L1432.1 584.5L1438.2 584.5L1433.3 588.1L1435.2 593.9L1430.2 590.3L1425.3 593.9L1427.2 588.1L1422.3 584.5L1428.4 584.5ZM1439.2 563.0L1441.0 568.8L1447.1 568.8L1442.2 572.4L1444.1 578.2L1439.2 574.6L1434.2 578.2L1436.1 572.4L1431.2 568.8L1437.3 568.8ZM1437.2 575.3L1439.1 581.1L1445.2 581.1L1440.3 584.7L1442.2 590.5L1437.2 586.9L1432.3 590.5L1434.2 584.7L1429.2 581.1L1435.3 581.1ZM1428.0 575.0L1429.8 580.8L1435.9 580.8L1431.0 584.4L1432.9 590.2L1428.0 586.6L1423.0 590.2L1424.9 584.4L1420.0 580.8L1426.1 580.8ZM1427.0 567.5L1428.8 573.3L1434.9 573.3L1430.0 576.9L1431.9 582.7L1427.0 579.1L1422.0 582.7L1423.9 576.9L1419.0 573.3L1425.1 573.3ZM1447.5 569.1L1449.4 574.9L1455.5 574.9L1450.5 578.5L1452.4 584.3L1447.5 580.7L1442.5 584.3L1444.4 578.5L1439.5 574.9L1445.6 574.9ZM1447.8 569.9L1449.7 575.7L1455.8 575.7L1450.8 579.3L1452.7 585.1L1447.8 581.5L1442.8 585.1L1444.7 579.3L1439.8 575.7L1445.9 575.7ZM1438.6 580.3L1440.5 586.1L1446.6 586.1L1441.6 589.7L1443.5 595.5L1438.6 592.0L1433.6 595.5L1435.5 589.7L1430.6 586.1L1436.7 586.1ZM1440.5 562.1L1442.4 567.9L1448.5 567.9L1443.5 571.5L1445.4 577.3L1440.5 573.7L1435.5 577.3L1437.4 571.5L1432.5 567.9L1438.6 567.9ZM1438.1 574.6L1440.0 580.4L1446.1 580.4L1441.2 584.0L1443.1 589.8L1438.1 586.2L1433.2 589.8L1435.1 584.0L1430.1 580.4L1436.3 580.4ZM1445.0 571.7L1446.9 577.5L1453.0 577.5L1448.0 581.1L1449.9 586.9L1445.0 583.3L1440.1 586.9L1441.9 581.1L1437.0 577.5L1443.1 577.5ZM1428.7 570.3L1430.5 576.1L1436.6 576.1L1431.7 579.7L1433.6 585.5L1428.7 581.9L1423.7 585.5L1425.6 579.7L1420.7 576.1L1426.8 576.1ZM1429.2 578.6L1431.1 584.4L1437.2 584.4L1432.3 587.9L1434.2 593.8L1429.2 590.2L1424.3 593.8L1426.2 587.9L1421.2 584.4L1427.4 584.4ZM1436.0 561.9L1437.9 567.7L1444.0 567.7L1439.1 571.2L1440.9 577.1L1436.0 573.5L1431.1 577.1L1433.0 571.2L1428.0 567.7L1434.1 567.7ZM1441.8 562.1L1443.7 567.9L1449.8 567.9L1444.8 571.5L1446.7 577.3L1441.8 573.7L1436.8 577.3L1438.7 571.5L1433.8 567.9L1439.9 567.9ZM1436.6 561.6L1438.5 567.4L1444.6 567.4L1439.7 571.0L1441.6 576.8L1436.6 573.2L1431.7 576.8L1433.6 571.0L1428.6 567.4L1434.7 567.4ZM1435.5 575.8L1437.4 581.7L1443.5 581.7L1438.6 585.2L1440.5 591.0L1435.5 587.5L1430.6 591.0L1432.5 585.2L1427.5 581.7L1433.6 581.7ZM1436.8 570.3L1438.7 576.1L1444.8 576.1L1439.9 579.7L1441.8 585.5L1436.8 581.9L1431.9 585.5L1433.8 579.7L1428.8 576.1L1435.0 576.1ZM1435.6 569.9L1437.5 575.7L1443.6 575.7L1438.7 579.3L1440.6 585.1L1435.6 581.5L1430.7 585.1L1432.6 579.3L1427.6 575.7L1433.8 575.7ZM1438.3 561.7L1440.2 567.5L1446.3 567.5L1441.3 571.1L1443.2 576.9L1438.3 573.3L1433.4 576.9L1435.2 571.1L1430.3 567.5L1436.4 567.5ZM1435.4 565.1L1437.3 570.9L1443.4 570.9L1438.4 574.5L1440.3 580.3L1435.4 576.7L1430.5 580.3L1432.3 574.5L1427.4 570.9L1433.5 570.9ZM1440.9 573.1L1442.8 578.9L1448.9 578.9L1443.9 582.5L1445.8 588.3L1440.9 584.7L1435.9 588.3L1437.8 582.5L1432.9 578.9L1439.0 578.9ZM1446.7 569.6L1448.5 575.4L1454.6 575.4L1449.7 578.9L1451.6 584.8L1446.7 581.2L1441.7 584.8L1443.6 578.9L1438.7 575.4L1444.8 575.4ZM1432.3 573.1L1434.2 578.9L1440.3 578.9L1435.4 582.5L1437.3 588.3L1432.3 584.7L1427.4 588.3L1429.3 582.5L1424.4 578.9L1430.5 578.9ZM1446.5 565.7L1448.4 571.5L1454.5 571.5L1449.6 575.1L1451.5 580.9L1446.5 577.3L1441.6 580.9L1443.5 575.1L1438.6 571.5L1444.7 571.5ZM1431.3 563.9L1433.1 569.7L1439.2 569.7L1434.3 573.3L1436.2 579.1L1431.3 575.5L1426.3 579.1L1428.2 573.3L1423.3 569.7L1429.4 569.7ZM1439.1 570.7L1441.0 576.5L1447.1 576.5L1442.1 580.1L1444.0 585.9L1439.1 582.3L1434.1 585.9L1436.0 580.1L1431.1 576.5L1437.2 576.5ZM1430.1 568.7L1432.0 574.5L1438.1 574.5L1433.2 578.1L1435.1 583.9L1430.1 580.3L1425.2 583.9L1427.1 578.1L1422.2 574.5L1428.3 574.5ZM1447.6 573.5L1449.5 579.3L1455.6 579.3L1450.6 582.9L1452.5 588.7L1447.6 585.1L1442.7 588.7L1444.5 582.9L1439.6 579.3L1445.7 579.3ZM1430.8 581.9L1432.7 587.7L1438.8 587.7L1433.8 591.3L1435.7 597.1L1430.8 593.5L1425.8 597.1L1427.7 591.3L1422.8 587.7L1428.9 587.7ZM1432.6 565.4L1434.5 571.2L1440.6 571.2L1435.7 574.8L1437.5 580.6L1432.6 577.0L1427.7 580.6L1429.5 574.8L1424.6 571.2L1430.7 571.2ZM1428.8 564.9L1430.7 570.7L1436.8 570.7L1431.8 574.3L1433.7 580.1L1428.8 576.5L1423.8 580.1L1425.7 574.3L1420.8 570.7L1426.9 570.7Z" fill="none" stroke="#ff0000" stroke-width="1.5" stroke-miterlimit="1"/>
<g stroke="#262626" stroke-width="1.6" fill="none" stroke-linecap="butt">
<line x1="87.50" y1="495.80" x2="87.50" y2="130.00"/>
<line x1="87.50" y1="495.80" x2="389.00" y2="663.40"/>
<line x1="389.00" y1="663.40" x2="781.00" y2="535.00"/>
<line x1="87.50" y1="495.80" x2="78.20" y2="491.20"/>
<line x1="87.50" y1="404.35" x2="78.20" y2="399.75"/>
<line x1="87.50" y1="312.90" x2="78.20" y2="308.30"/>
<line x1="87.50" y1="221.45" x2="78.20" y2="216.85"/>
<line x1="87.50" y1="130.00" x2="78.20" y2="125.40"/>
<line x1="389.00" y1="663.40" x2="379.00" y2="666.80"/>
<line x1="288.50" y1="607.53" x2="278.50" y2="610.93"/>
<line x1="188.00" y1="551.67" x2="178.00" y2="555.07"/>
<line x1="87.50" y1="495.80" x2="77.50" y2="499.20"/>
<line x1="389.00" y1="663.40" x2="398.00" y2="668.60"/>
<line x1="519.67" y1="620.60" x2="528.67" y2="625.80"/>
<line x1="650.33" y1="577.80" x2="659.33" y2="583.00"/>
<line x1="781.00" y1="535.00" x2="790.00" y2="540.20"/>
</g>
<g stroke="#262626" stroke-width="1.6" fill="none" stroke-linecap="butt">
<line x1="1114.90" y1="495.80" x2="1114.90" y2="130.50"/>
<line x1="1114.90" y1="495.80" x2="1416.30" y2="664.10"/>
<line x1="1416.30" y1="664.10" x2="1808.80" y2="535.40"/>
<line x1="1114.90" y1="495.80" x2="1105.60" y2="491.20"/>
<line x1="1114.90" y1="399.31" x2="1105.60" y2="394.71"/>
<line x1="1114.90" y1="302.83" x2="1105.60" y2="298.23"/>
<line x1="1114.90" y1="206.34" x2="1105.60" y2="201.74"/>
<line x1="1416.30" y1="664.10" x2="1406.30" y2="667.50"/>
<line x1="1288.04" y1="592.48" x2="1278.04" y2="595.88"/>
<line x1="1159.79" y1="520.87" x2="1149.79" y2="524.27"/>
<line x1="1416.30" y1="664.10" x2="1425.30" y2="669.30"/>
<line x1="1547.13" y1="621.20" x2="1556.13" y2="626.40"/>
<line x1="1677.97" y1="578.30" x2="1686.97" y2="583.50"/>
<line x1="1808.80" y1="535.40" x2="1817.80" y2="540.60"/>
</g>
<text x="66.70" y="498.30" font-size="35" text-anchor="end">-5</text>
<text x="66.70" y="406.85" font-size="35" text-anchor="end">0</text>
<text x="66.70" y="315.40" font-size="35" text-anchor="end">5</text>
<text x="66.70" y="223.95" font-size="35" text-anchor="end">10</text>
<text x="66.70" y="132.50" font-size="35" text-anchor="end">15</text>
<text x="367.50" y="703.90" font-size="35" text-anchor="end">-10</text>
<text x="267.00" y="648.03" font-size="35" text-anchor="end">0</text>
<text x="166.50" y="592.17" font-size="35" text-anchor="end">10</text>
<text x="66.00" y="536.30" font-size="35" text-anchor="end">20</text>
<text x="409.20" y="707.90" font-size="35" text-anchor="start">-10</text>
<text x="539.87" y="665.10" font-size="35" text-anchor="start">0</text>
<text x="670.53" y="622.30" font-size="35" text-anchor="start">10</text>
<text x="801.20" y="579.50" font-size="35" text-anchor="start">20</text>
<text x="1094.10" y="498.30" font-size="35" text-anchor="end">-5</text>
<text x="1094.10" y="401.81" font-size="35" text-anchor="end">0</text>
<text x="1094.10" y="305.33" font-size="35" text-anchor="end">5</text>
<text x="1094.10" y="208.84" font-size="35" text-anchor="end">10</text>
<text x="1394.80" y="704.60" font-size="35" text-anchor="end">-10</text>
<text x="1266.54" y="632.98" font-size="35" text-anchor="end">0</text>
<text x="1138.29" y="561.37" font-size="35" text-anchor="end">10</text>
<text x="1436.50" y="708.60" font-size="35" text-anchor="start">-5</text>
<text x="1567.33" y="665.70" font-size="35" text-anchor="start">0</text>
<text x="1698.17" y="622.80" font-size="35" text-anchor="start">5</text>
<text x="1829.00" y="579.90" font-size="35" text-anchor="start">10</text>
<text x="22.60" y="309.00" font-size="32" text-anchor="middle" font-weight="bold" transform="rotate(-90 22.60 309.00)" class="L3">Dimension 3</text>
<text x="1054.60" y="329.60" font-size="32" text-anchor="middle" font-weight="bold" transform="rotate(-90 1054.60 329.60)" class="R3">Dimension 3</text>
<text x="158.80" y="646.60" font-size="32" text-anchor="middle" font-weight="bold" transform="rotate(29.5 158.80 646.60)" class="L1">Dimension 1</text>
<text x="1186.20" y="635.20" font-size="32" text-anchor="middle" font-weight="bold" transform="rotate(29.5 1186.20 635.20)" class="R1">Dimension 1</text>
<text x="658.70" y="664.70" font-size="32" text-anchor="middle" font-weight="bold" transform="rotate(-14.8 658.70 664.70)" class="L2">Dimension 2</text>
<text x="1677.20" y="680.30" font-size="32" text-anchor="middle" font-weight="bold" transform="rotate(-14.8 1677.20 680.30)" class="R2">Dimension 2</text>
<rect x="853.6" y="2.2" width="115.5" height="165" fill="#fff" stroke="#262626" stroke-width="1.6"/>
<path d="M899.8 16.0L891.5 30.5L908.1 30.5Z" fill="none" stroke="#0000ff" stroke-width="1.6" stroke-miterlimit="4"/>
<path d="M899.8 56.3L901.7 62.1L907.8 62.1L902.9 65.7L904.7 71.5L899.8 67.9L894.9 71.5L896.7 65.7L891.8 62.1L897.9 62.1Z" fill="none" stroke="#ff0000" stroke-width="1.5" stroke-miterlimit="1"/>
<path d="M892.1 104.3H907.5M899.8 96.6V112.0M894.6 99.1L905.0 109.5M894.6 109.5L905.0 99.1" fill="none" stroke="#00ff00" stroke-width="1.8" stroke-miterlimit="4"/>
<path d="M891.9 143.9H907.7M899.8 136.0V151.8" fill="none" stroke="#000000" stroke-width="1.7" stroke-miterlimit="4"/>
<text x="960.60" y="36.35" font-size="31.5" text-anchor="end">1</text>
<text x="960.60" y="77.40" font-size="31.5" text-anchor="end">2</text>
<text x="960.60" y="117.85" font-size="31.5" text-anchor="end">3</text>
<text x="960.60" y="157.40" font-size="31.5" text-anchor="end">4</text>
<rect x="1881.5" y="2.2" width="115.5" height="165" fill="#fff" stroke="#262626" stroke-width="1.6"/>
<path d="M1927.7 16.0L1919.4 30.5L1936.0 30.5Z" fill="none" stroke="#0000ff" stroke-width="1.6" stroke-miterlimit="4"/>
<path d="M1927.7 56.3L1929.6 62.1L1935.7 62.1L1930.8 65.7L1932.6 71.5L1927.7 67.9L1922.8 71.5L1924.6 65.7L1919.7 62.1L1925.8 62.1Z" fill="none" stroke="#ff0000" stroke-width="1.5" stroke-miterlimit="1"/>
<path d="M1920.0 104.3H1935.4M1927.7 96.6V112.0M1922.5 99.1L1932.9 109.5M1922.5 109.5L1932.9 99.1" fill="none" stroke="#00ff00" stroke-width="1.8" stroke-miterlimit="4"/>
<path d="M1919.8 143.9H1935.6M1927.7 136.0V151.8" fill="none" stroke="#000000" stroke-width="1.7" stroke-miterlimit="4"/>
<text x="1988.50" y="36.35" font-size="31.5" text-anchor="end">1</text>
<text x="1988.50" y="77.40" font-size="31.5" text-anchor="end">2</text>
<text x="1988.50" y="117.85" font-size="31.5" text-anchor="end">3</text>
<text x="1988.50" y="157.40" font-size="31.5" text-anchor="end">4</text>
<text x="413.00" y="787.00" font-size="42" text-anchor="middle">(a) Before AHE</text>
<text x="1426.00" y="787.00" font-size="42" text-anchor="middle">(b) After AHE</text>
</svg></body></html>
